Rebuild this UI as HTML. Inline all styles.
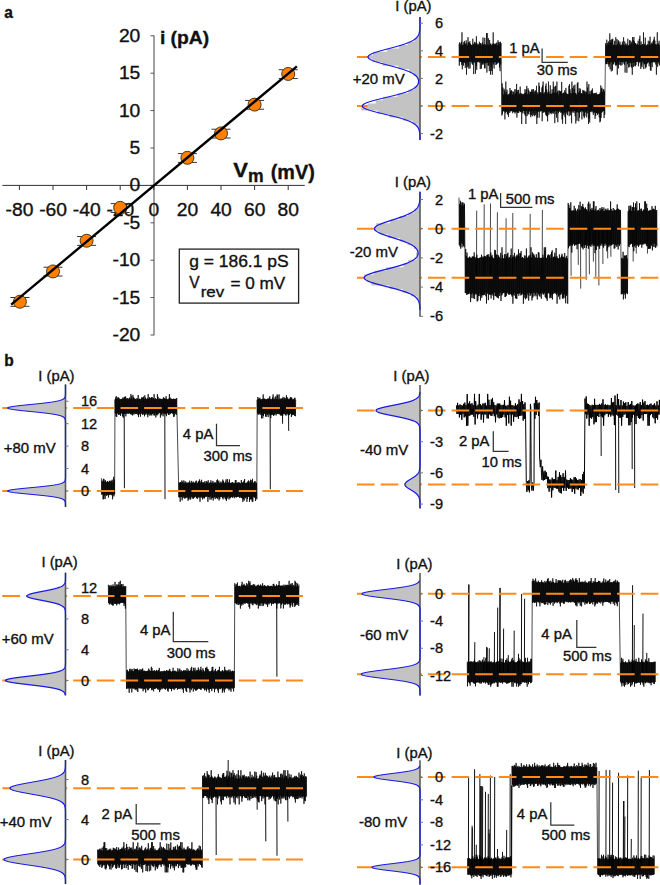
<!DOCTYPE html>
<html><head><meta charset="utf-8"><style>
html,body{margin:0;padding:0;background:#fff;}
svg{display:block;}
text{font-family:"Liberation Sans",sans-serif;stroke:#111;stroke-width:0.35px;}
</style></head><body>
<svg width="660" height="885" viewBox="0 0 660 885">
<rect width="660" height="885" fill="#fff"/>
<text transform="translate(4.19,18.39) scale(0.956,1)" font-size="16.18" text-anchor="start" font-weight="bold" stroke-width="0.1" fill="#111">a</text>
<line x1="154.00" y1="35.50" x2="154.00" y2="335.20" stroke="#8a8a8a" stroke-width="1.6" />
<line x1="150.50" y1="335.00" x2="154.00" y2="335.00" stroke="#555" stroke-width="1" />
<line x1="150.50" y1="297.60" x2="154.00" y2="297.60" stroke="#555" stroke-width="1" />
<line x1="150.50" y1="260.20" x2="154.00" y2="260.20" stroke="#555" stroke-width="1" />
<line x1="150.50" y1="222.80" x2="154.00" y2="222.80" stroke="#555" stroke-width="1" />
<line x1="150.50" y1="185.40" x2="154.00" y2="185.40" stroke="#555" stroke-width="1" />
<line x1="150.50" y1="148.00" x2="154.00" y2="148.00" stroke="#555" stroke-width="1" />
<line x1="150.50" y1="110.60" x2="154.00" y2="110.60" stroke="#555" stroke-width="1" />
<line x1="150.50" y1="73.20" x2="154.00" y2="73.20" stroke="#555" stroke-width="1" />
<line x1="150.50" y1="35.80" x2="154.00" y2="35.80" stroke="#555" stroke-width="1" />
<line x1="2.40" y1="185.40" x2="304.80" y2="185.40" stroke="#333" stroke-width="1" />
<line x1="19.40" y1="185.40" x2="19.40" y2="190.00" stroke="#333" stroke-width="1" />
<line x1="53.00" y1="185.40" x2="53.00" y2="190.00" stroke="#333" stroke-width="1" />
<line x1="86.60" y1="185.40" x2="86.60" y2="190.00" stroke="#333" stroke-width="1" />
<line x1="120.20" y1="185.40" x2="120.20" y2="190.00" stroke="#333" stroke-width="1" />
<line x1="153.80" y1="185.40" x2="153.80" y2="190.00" stroke="#333" stroke-width="1" />
<line x1="187.40" y1="185.40" x2="187.40" y2="190.00" stroke="#333" stroke-width="1" />
<line x1="221.00" y1="185.40" x2="221.00" y2="190.00" stroke="#333" stroke-width="1" />
<line x1="254.60" y1="185.40" x2="254.60" y2="190.00" stroke="#333" stroke-width="1" />
<line x1="288.20" y1="185.40" x2="288.20" y2="190.00" stroke="#333" stroke-width="1" />
<text transform="translate(140.30,340.90) scale(1.07,1)" font-size="18" text-anchor="end" fill="#111">-20</text>
<text transform="translate(140.30,303.50) scale(1.07,1)" font-size="18" text-anchor="end" fill="#111">-15</text>
<text transform="translate(140.30,266.10) scale(1.07,1)" font-size="18" text-anchor="end" fill="#111">-10</text>
<text transform="translate(140.30,228.70) scale(1.07,1)" font-size="18" text-anchor="end" fill="#111">-5</text>
<text transform="translate(140.30,191.30) scale(1.07,1)" font-size="18" text-anchor="end" fill="#111">0</text>
<text transform="translate(140.30,153.90) scale(1.07,1)" font-size="18" text-anchor="end" fill="#111">5</text>
<text transform="translate(140.30,116.50) scale(1.07,1)" font-size="18" text-anchor="end" fill="#111">10</text>
<text transform="translate(140.30,79.10) scale(1.07,1)" font-size="18" text-anchor="end" fill="#111">15</text>
<text transform="translate(140.30,41.70) scale(1.07,1)" font-size="18" text-anchor="end" fill="#111">20</text>
<text transform="translate(19.50,216.00) scale(1.07,1)" font-size="18" text-anchor="middle" fill="#111">-80</text>
<text transform="translate(53.10,216.00) scale(1.07,1)" font-size="18" text-anchor="middle" fill="#111">-60</text>
<text transform="translate(86.70,216.00) scale(1.07,1)" font-size="18" text-anchor="middle" fill="#111">-40</text>
<text transform="translate(120.30,216.00) scale(1.07,1)" font-size="18" text-anchor="middle" fill="#111">-20</text>
<text transform="translate(153.90,216.00) scale(1.07,1)" font-size="18" text-anchor="middle" fill="#111">0</text>
<text transform="translate(187.50,216.00) scale(1.07,1)" font-size="18" text-anchor="middle" fill="#111">20</text>
<text transform="translate(221.10,216.00) scale(1.07,1)" font-size="18" text-anchor="middle" fill="#111">40</text>
<text transform="translate(254.70,216.00) scale(1.07,1)" font-size="18" text-anchor="middle" fill="#111">60</text>
<text transform="translate(288.30,216.00) scale(1.07,1)" font-size="18" text-anchor="middle" fill="#111">80</text>
<line x1="10.40" y1="297.51" x2="29.40" y2="297.51" stroke="#333" stroke-width="1" />
<line x1="10.40" y1="306.31" x2="29.40" y2="306.31" stroke="#333" stroke-width="1" />
<line x1="19.90" y1="297.51" x2="19.90" y2="306.31" stroke="#333" stroke-width="1" />
<circle cx="19.90" cy="301.71" r="6.5" fill="#ff8000" stroke="#3a2a10" stroke-width="0.9"/>
<line x1="43.50" y1="267.22" x2="62.50" y2="267.22" stroke="#333" stroke-width="1" />
<line x1="43.50" y1="276.02" x2="62.50" y2="276.02" stroke="#333" stroke-width="1" />
<line x1="53.00" y1="267.22" x2="53.00" y2="276.02" stroke="#333" stroke-width="1" />
<circle cx="53.00" cy="271.42" r="6.5" fill="#ff8000" stroke="#3a2a10" stroke-width="0.9"/>
<line x1="77.10" y1="236.55" x2="96.10" y2="236.55" stroke="#333" stroke-width="1" />
<line x1="77.10" y1="245.35" x2="96.10" y2="245.35" stroke="#333" stroke-width="1" />
<line x1="86.60" y1="236.55" x2="86.60" y2="245.35" stroke="#333" stroke-width="1" />
<circle cx="86.60" cy="240.75" r="6.5" fill="#ff8000" stroke="#3a2a10" stroke-width="0.9"/>
<line x1="110.70" y1="203.64" x2="129.70" y2="203.64" stroke="#333" stroke-width="1" />
<line x1="110.70" y1="212.44" x2="129.70" y2="212.44" stroke="#333" stroke-width="1" />
<line x1="120.20" y1="203.64" x2="120.20" y2="212.44" stroke="#333" stroke-width="1" />
<circle cx="120.20" cy="207.84" r="6.5" fill="#ff8000" stroke="#3a2a10" stroke-width="0.9"/>
<line x1="177.90" y1="153.60" x2="196.90" y2="153.60" stroke="#333" stroke-width="1" />
<line x1="177.90" y1="162.40" x2="196.90" y2="162.40" stroke="#333" stroke-width="1" />
<line x1="187.40" y1="153.60" x2="187.40" y2="162.40" stroke="#333" stroke-width="1" />
<circle cx="187.40" cy="157.80" r="6.5" fill="#ff8000" stroke="#3a2a10" stroke-width="0.9"/>
<line x1="211.50" y1="129.21" x2="230.50" y2="129.21" stroke="#333" stroke-width="1" />
<line x1="211.50" y1="138.01" x2="230.50" y2="138.01" stroke="#333" stroke-width="1" />
<line x1="221.00" y1="129.21" x2="221.00" y2="138.01" stroke="#333" stroke-width="1" />
<circle cx="221.00" cy="133.41" r="6.5" fill="#ff8000" stroke="#3a2a10" stroke-width="0.9"/>
<line x1="245.10" y1="100.42" x2="264.10" y2="100.42" stroke="#333" stroke-width="1" />
<line x1="245.10" y1="109.22" x2="264.10" y2="109.22" stroke="#333" stroke-width="1" />
<line x1="254.60" y1="100.42" x2="254.60" y2="109.22" stroke="#333" stroke-width="1" />
<circle cx="254.60" cy="104.62" r="6.5" fill="#ff8000" stroke="#3a2a10" stroke-width="0.9"/>
<line x1="278.70" y1="69.75" x2="297.70" y2="69.75" stroke="#333" stroke-width="1" />
<line x1="278.70" y1="78.55" x2="297.70" y2="78.55" stroke="#333" stroke-width="1" />
<line x1="288.20" y1="69.75" x2="288.20" y2="78.55" stroke="#333" stroke-width="1" />
<circle cx="288.20" cy="73.95" r="6.5" fill="#ff8000" stroke="#3a2a10" stroke-width="0.9"/>
<line x1="11.20" y1="304.60" x2="296.90" y2="66.30" stroke="#000" stroke-width="2.4" />
<text transform="translate(159.90,43.92) scale(1.031,1)" font-size="18.72" text-anchor="start" font-weight="bold" stroke-width="0.1" fill="#111">i (pA)</text>
<text transform="translate(233.33,177.45) scale(1.133,1)" font-size="19.42" text-anchor="start" font-weight="bold" stroke-width="0.1" fill="#111">V</text>
<text transform="translate(247.90,181.55) scale(0.933,1)" font-size="18.89" text-anchor="start" font-weight="bold" stroke-width="0.1" fill="#111">m</text>
<text transform="translate(270.76,179.17) scale(0.95,1)" font-size="20.86" text-anchor="start" font-weight="bold" stroke-width="0.1" fill="#111">(mV)</text>
<rect x="179.3" y="249.1" width="119.3" height="54" fill="none" stroke="#222" stroke-width="1.3"/>
<text transform="translate(189.15,266.73) scale(1.074,1)" font-size="16.26" text-anchor="start" fill="#111">g = 186.1 pS</text>
<text transform="translate(189.37,287.85) scale(0.968,1)" font-size="16.09" text-anchor="start" fill="#111">V</text>
<text transform="translate(200.65,296.80) scale(1.111,1)" font-size="15.27" text-anchor="start" fill="#111">rev</text>
<text transform="translate(230.39,289.48) scale(1.016,1)" font-size="16.9" text-anchor="start" fill="#111">= 0 mV</text>
<text transform="translate(4.20,366.20) scale(0.96,1)" font-size="16.2" text-anchor="start" font-weight="bold" stroke-width="0.1" fill="#111">b</text>
<path d="M459.0 43.9l .3 21.8 .3-23.3 .3 19.3 .3-16.4 .3 16.5 .3-18.5 .3 18.7 .3-20.4 .3 23.3 .3-32.6 .3 37 .3-24.4 .3 18.1 .3-18.3 .3 20.9 .3-23.3 .3 19.4 .3-20.8 .3 22.1 .3-19.9 .3 24.7 .3-23.4 .3 20.1 .3-24.2 .3 34.4 .3-31.4 .3 18.9 .3-16.9 .3 22 .3-30.1 .3 29.1 .3-24.3 .3 26.8 .3-25.9 .3 18.9 .3-20.5 .3 27.1 .3-24.8 .3 18 .3-16.8 .3 16.9 .3-16.8 .3 18.6 .3-18.3 .3 19.5 .3-26 .3 24.1 .3-19.1 .3 30.5 .3-29.5 .3 17.9 .3-20.7 .3 19.6 .3-17.8 .3 30 .3-31.1 .3 23.4 .3-29.7 .3 33.5 .3-26.3 .3 18.4 .3-16.7 .3 17.2 .3-18.6 .3 17.7 .3-16.4 .3 16.5 .3-19.9 .3 21 .3-19 .3 25.4 .3-26.1 .3 18.9 .3-18.1 .3 24.8 .3-23.2 .3 19.1 .3-22.1 .3 22.1 .3-27 .3 25.2 .3-17.9 .3 19.7 .3-20.6 .3 24.3 .3-30.4 .3 30.5 .3-23.8 .3 18.8 .3-17.9 .3 17.3 .3-29.7 .3 39.6 .3-39.5 .3 29.4 .3-17.9 .3 20.8 .3-27.2 .3 27.5 .3-20.6 .3 26 .3-31.1 .3 22.3 .3-18.4 .3 30.8 .3-31.3 .3 23.3 .3-21.7 .3 25.9 .3-26 .3 29.8 .3-30.9 .3 18.3 .3-29.8 .3 32.2 .3-21.3 .3 25.3 .3-24.2 .3 18.3 .3-18.3 .3 17.8 .3-18.3 .3 21.2 .3-21.7 .3 21 .3-21.8 .3 21.3 .3-18.3 .3 16.8 .3-22 .3 22.8 .3-20.8 .3 19.6 .3-17.5 .3 23 .3-25.2 .3 29 .3-29.5 .3 22.7 .3-21.3 .6 49.1 .3 23.4 .3-32.2 .3 30.7 .3-26.6 .3 23.8 .3-16.8 .3 16.6 .3-22.4 .3 22.8 .3-21 .3 28.9 .3-25.6 .3 19 .3-31.2 .3 29.9 .3-19.6 .3 19.8 .3-22 .3 24.3 .3-19.3 .3 20 .3-20.2 .3 22.5 .3-22.6 .3 16.6 .3-17.5 .3 19.5 .3-25 .3 23.4 .3-20 .3 19.8 .3-21.1 .3 21 .3-20.3 .3 20.3 .3-16.6 .3 18.7 .3-21.6 .3 20.4 .3-20.2 .3 19.5 .3-16.7 .3 17.7 .3-23.2 .3 24.5 .3-20.5 .3 18.9 .3-22.5 .3 22.1 .3-27.7 .3 33.7 .3-25.5 .3 20.7 .3-22.7 .3 22.4 .3-22.6 .3 23 .3-18.3 .3 16.5 .3-17.5 .3 17.6 .3-24.6 .3 25.5 .3-18.7 .3 18.1 .3-17.9 .3 30.4 .3-30.3 .3 18.6 .3-17.5 .3 18.6 .3-19.5 .3 16.9 .3-16.4 .3 16.6 .3-17.7 .3 21 .3-25.1 .3 26.6 .3-23 .3 31.2 .3-34.4 .3 21.4 .3-25.1 .3 30.2 .3-21.9 .4 19.4 .3-25.3 .3 26 .3-24.1 .3 21.6 .3-17.6 .3 17 .3-19.7 .3 23.2 .3-22.6 .3 25.1 .3-25.2 .3 23.1 .3-25.6 .3 21.6 .3-21.5 .3 26.6 .3-24.1 .3 21.3 .3-24.4 .3 25.9 .3-20.7 .3 22 .3-24.8 .3 19.7 .3-20.8 .3 25 .3-23.4 .3 21.4 .3-27.5 .3 38.2 .3-29.3 .3 23 .3-25.3 .3 19.3 .3-17.8 .3 17.5 .3-28.8 .3 35.1 .3-31.6 .3 25.8 .3-19.8 .3 18.7 .3-18.4 .3 19 .3-18.1 .3 17.5 .3-23.3 .3 33.7 .3-35.7 .3 27.2 .3-31.1 .3 31 .3-19.1 .3 17.7 .3-17.7 .3 18.4 .3-20 .3 20.8 .3-26.5 .3 28.6 .3-31.3 .3 32.4 .3-26.4 .3 26.9 .3-22.9 .3 27.8 .3-29.1 .3 20 .3-30.6 .3 33.5 .3-23.6 .3 20 .3-17.6 .3 19.6 .3-28.2 .3 27.9 .3-19.3 .3 18.6 .3-18.8 .3 20.5 .3-24.9 .3 23.6 .3-20 .3 18.2 .3-29.5 .3 32 .3-26.7 .3 25.2 .3-19.3 .3 30.3 .3-36.6 .3 24.4 .3-25.1 .3 28.5 .3-21.5 .3 25 .3-36.2 .3 29.7 .3-19.5 .3 30.4 .3-31.6 .3 22.6 .3-18.6 .3 17.3 .3-21.2 .3 20.6 .3-20.5 .3 20.5 .3-19.5 .3 21 .3-21.7 .3 21.1 .3-30.2 .3 37.4 .3-25.7 .3 30 .3-30.4 .3 20.3 .3-21 .3 22.6 .3-21.4 .3 18.7 .3-22.3 .3 27 .3-25.2 .3 32 .3-36.1 .3 23.9 .3-18.4 .3 20.1 .3-19.7 .3 21.4 .3-21 .3 17.6 .3-17.6 .3 16.8 .3-25.3 .3 30.4 .3-32 .3 27.5 .3-22.3 .3 25.9 .3-22.3 .3 18.6 .3-18 .3 29.8 .3-41.7 .3 31 .3-24.7 .3 23.1 .3-18.1 .3 18.8 .3-26 .3 27.2 .3-23.9 .3 21.9 .3-26.2 .3 31.6 .3-23.2 .3 30.4 .3-29.9 .3 18.7 .3-17.5 .3 25.9 .3-37.4 .3 28.6 .3-29.7 .3 30.6 .3-20.2 .3 28.7 .4-33 .3 29.4 .3-26.6 .3 21.2 .3-23.6 .3 23 .3-18 .3 17.2 .3-17.7 .3 26.2 .3-25.8 .3 17.6 .3-21.3 .3 22 .3-21 .3 25.4 .3-25.9 .3 27.8 .3-26.7 .3 24.7 .3-22.5 .3 17.8 .3-20.2 .3 21.5 .3-20.8 .3 25.4 .3-35.8 .3 31.8 .3-25.9 .3 23.5 .3-16.7 .3 29.7 .3-39.8 .3 34.6 .3-25.2 .3 28.9 .3-31.3 .3 20.6 .3-17.6 .3 17.8 .3-21.4 .3 20.2 .3-20.5 .3 22 .3-23.8 .3 22.6 .3-18.3 .3 22.1 .3-20.8 .3 18.8 .3-19.6 .3 19 .3-19.3 .3 25.8 .3-25.8 .3 23 .3-21.2 .3 18.2 .3-20.3 .3 20.6 .3-18.6 .3 20.2 .3-20.5 .3 18.3 .3-18.5 .3 19.5 .3-19.4 .3 23 .3-23.4 .3 28.4 .3-30.1 .3 29 .3-35.8 .3 32.4 .3-29.2 .3 24.3 .3-25.2 .3 24.1 .3-19.9 .3 19.4 .3-21.7 .3 21.4 .3-21.9 .3 29 .3-27 .3 23.6 .3-22.1 .6-49.3 .3 20.6 .3-18.5 .3 18.8 .3-24.5 .3 24.3 .3-21.1 .3 19.1 .3-16.9 .3 19.3 .3-22.9 .3 25.3 .3-24.2 .3 21.7 .3-30.9 .3 35.9 .3-29.1 .3 22.2 .3-19.6 .3 28.6 .3-32.1 .3 22.5 .3-21.9 .3 30.7 .3-31.9 .3 25.6 .3-19.7 .3 19.7 .3-19 .3 16.9 .3-21.3 .3 21.3 .3-17.2 .3 20.5 .3-28.3 .3 27.8 .3-19.9 .3 20.4 .3-26.4 .3 35.6 .3-31 .3 20.1 .3-23.7 .3 28.3 .3-27 .3 23.6 .3-21 .3 17.6 .3-19.9 .3 22.7 .3-19.5 .3 20.8 .3-20.2 .3 16.4 .3-17.4 .3 20.6 .3-23.5 .3 20.5 .3-17.7 .3 17.5 .3-24.6 .3 26.3 .3-18.1 .3 19.3 .3-23.4 .3 31.2 .3-28.2 .3 17.3 .3-18.3 .3 18.3 .3-16.2 .3 27.3 .3-28.2 .3 19.7 .3-25.5 .3 24.2 .3-17.7 .3 22.3 .3-22.1 .3 21.5 .3-26.9 .3 22.4 .3-18.1 .3 18.7 .3-22.4 .3 25.8 .3-24.2 .3 25.4 .3-23.4 .3 30.4 .3-37.7 .4 25.7 .3-22.6 .3 26.9 .3-30 .3 25.6 .3-21.1 .3 24.4 .3-22.9 .3 23.3 .3-23.1 .3 21.7 .3-20.4 .3 17.3 .3-16.9 .3 17.1 .3-18.2 .3 17.8 .3-20.8 .3 25.5 .3-21.1 .3 18.1 .3-24.6 .3 23.1 .3-26.1 .3 26.3 .3-17 .3 24 .3-27.5 .3 24 .3-20.4 .3 22.1 .3-23.2 .3 17.6 .3-17.4 .3 19.1 .3-31 .3 36.8 .3-23.7 .3 18.4 .3-20 .3 20.8 .3-27 .3 30.8 .3-22.9 .3 21.7 .3-21.7 .3 18.7 .3-19.5 .3 18.5 .3-18.9 .3 18.5 .3-22.1 .3 21.3 .3-16.8 .3 21.1 .3-24.8 .3 22.1 .3-26.9 .3 33.6 .3-25.7 .3 26.2 .3-27.2 .3 19 .3-20.1 .3 24.6 .3-23.3 .3 18.4 .3-21 .3 21 .3-22.6 .3 22.4 .3-25.2 .3 25.6 .3-21.8 .3 21.6 .3-17.8 .3 20.1 .3-20.6 .3 30.8 .3-29.6 .3 16.8 .3-29.6 .3 34.5 .3-22.2 .3 17.4 .3-18.5 .3 20 .3-22.7 .3 24.7 .3-20.6 .3 18.7" fill="none" stroke="#000" stroke-width="0.65" stroke-linejoin="bevel"/>
<line x1="357.00" y1="57.00" x2="660.00" y2="57.00" stroke="#ff8a1a" stroke-width="2" stroke-dasharray="17.6 6.04"/>
<line x1="357.00" y1="106.00" x2="660.00" y2="106.00" stroke="#ff8a1a" stroke-width="2" stroke-dasharray="17.6 6.04"/>
<path d="M420.00 17.35 L419.00 17.35 L419.00 20.80 L419.20 20.80 L419.20 24.25 L420.00 24.25 L420.00 27.70 L419.64 27.70 L419.64 31.15 L418.66 31.15 L418.66 34.60 L417.53 34.60 L417.53 38.05 L414.53 38.05 L414.53 41.50 L407.52 41.50 L407.52 44.95 L399.14 44.95 L399.14 48.40 L386.89 48.40 L386.89 51.85 L372.99 51.85 L372.99 55.30 L368.85 55.30 L368.85 58.75 L372.40 58.75 L372.40 62.20 L382.31 62.20 L382.31 65.65 L398.37 65.65 L398.37 69.10 L409.15 69.10 L409.15 72.55 L413.63 72.55 L413.63 76.00 L417.21 76.00 L417.21 79.45 L418.82 79.45 L418.82 82.90 L417.22 82.90 L417.22 86.35 L414.19 86.35 L414.19 89.80 L408.33 89.80 L408.33 93.25 L397.61 93.25 L397.61 96.70 L382.96 96.70 L382.96 100.15 L375.68 100.15 L375.68 103.60 L367.55 103.60 L367.55 107.05 L361.24 107.05 L361.24 110.50 L377.68 110.50 L377.68 113.95 L389.49 113.95 L389.49 117.40 L403.03 117.40 L403.03 120.85 L412.77 120.85 L412.77 124.30 L417.65 124.30 L417.65 127.75 L418.67 127.75 L418.67 131.20 L420.00 131.20 L420.00 134.65 L419.16 134.65 L419.16 138.10 L419.74 138.10 L419.74 141.55 L420.00 141.55 Z" fill="#c3c3c3" stroke="none"/>
<line x1="420.00" y1="17.00" x2="420.00" y2="140.00" stroke="#5a5a5a" stroke-width="1.6" />
<path d="M420.00 17.00 L420.00 17.50 L420.00 18.00 L420.00 18.50 L420.00 19.00 L420.00 19.50 L420.00 20.00 L420.00 20.50 L420.00 21.00 L419.99 21.50 L419.99 22.00 L419.99 22.50 L419.99 23.00 L419.98 23.50 L419.98 24.00 L419.98 24.50 L419.97 25.00 L419.96 25.50 L419.95 26.00 L419.94 26.50 L419.92 27.00 L419.91 27.50 L419.88 28.00 L419.86 28.50 L419.82 29.00 L419.79 29.50 L419.74 30.00 L419.68 30.50 L419.62 31.00 L419.54 31.50 L419.44 32.00 L419.33 32.50 L419.20 33.00 L419.06 33.50 L418.88 34.00 L418.68 34.50 L418.45 35.00 L418.18 35.50 L417.88 36.00 L417.54 36.50 L417.15 37.00 L416.71 37.50 L416.21 38.00 L415.66 38.50 L415.05 39.00 L414.37 39.50 L413.62 40.00 L412.79 40.50 L411.89 41.00 L410.91 41.50 L409.84 42.00 L408.69 42.50 L407.46 43.00 L406.15 43.50 L404.75 44.00 L403.27 44.50 L401.71 45.00 L400.09 45.50 L398.39 46.00 L396.64 46.50 L394.84 47.00 L392.99 47.50 L391.11 48.00 L389.22 48.50 L387.32 49.00 L385.43 49.50 L383.56 50.00 L381.73 50.50 L379.96 51.00 L378.25 51.50 L376.63 52.00 L375.11 52.50 L373.70 53.00 L372.42 53.50 L371.29 54.00 L370.31 54.50 L369.49 55.00 L368.84 55.50 L368.38 56.00 L368.09 56.50 L368.00 57.00 L368.09 57.50 L368.38 58.00 L368.84 58.50 L369.49 59.00 L370.31 59.50 L371.29 60.00 L372.42 60.50 L373.70 61.00 L375.11 61.50 L376.63 62.00 L378.25 62.50 L379.96 63.00 L381.73 63.50 L383.56 64.00 L385.43 64.50 L387.32 65.00 L389.22 65.50 L391.11 66.00 L392.99 66.50 L394.83 67.00 L396.64 67.50 L398.39 68.00 L400.08 68.50 L401.71 69.00 L403.27 69.50 L404.74 70.00 L406.14 70.50 L407.46 71.00 L408.68 71.50 L409.83 72.00 L410.89 72.50 L411.87 73.00 L412.76 73.50 L413.58 74.00 L414.32 74.50 L414.99 75.00 L415.60 75.50 L416.13 76.00 L416.60 76.50 L417.02 77.00 L417.38 77.50 L417.69 78.00 L417.95 78.50 L418.16 79.00 L418.33 79.50 L418.46 80.00 L418.54 80.50 L418.59 81.00 L418.59 81.50 L418.56 82.00 L418.49 82.50 L418.38 83.00 L418.22 83.50 L418.02 84.00 L417.77 84.50 L417.48 85.00 L417.13 85.50 L416.72 86.00 L416.26 86.50 L415.73 87.00 L415.14 87.50 L414.47 88.00 L413.72 88.50 L412.90 89.00 L411.99 89.50 L411.00 90.00 L409.91 90.50 L408.74 91.00 L407.47 91.50 L406.11 92.00 L404.65 92.50 L403.10 93.00 L401.47 93.50 L399.74 94.00 L397.94 94.50 L396.06 95.00 L394.12 95.50 L392.12 96.00 L390.08 96.50 L388.00 97.00 L385.91 97.50 L383.80 98.00 L381.71 98.50 L379.64 99.00 L377.61 99.50 L375.64 100.00 L373.75 100.50 L371.96 101.00 L370.27 101.50 L368.72 102.00 L367.30 102.50 L366.04 103.00 L364.95 103.50 L364.05 104.00 L363.33 104.50 L362.82 105.00 L362.50 105.50 L362.40 106.00 L362.50 106.50 L362.82 107.00 L363.33 107.50 L364.05 108.00 L364.95 108.50 L366.04 109.00 L367.30 109.50 L368.72 110.00 L370.27 110.50 L371.96 111.00 L373.75 111.50 L375.64 112.00 L377.61 112.50 L379.64 113.00 L381.71 113.50 L383.80 114.00 L385.91 114.50 L388.00 115.00 L390.08 115.50 L392.13 116.00 L394.12 116.50 L396.07 117.00 L397.94 117.50 L399.75 118.00 L401.47 118.50 L403.11 119.00 L404.66 119.50 L406.11 120.00 L407.48 120.50 L408.75 121.00 L409.93 121.50 L411.02 122.00 L412.02 122.50 L412.93 123.00 L413.76 123.50 L414.52 124.00 L415.20 124.50 L415.81 125.00 L416.35 125.50 L416.84 126.00 L417.27 126.50 L417.65 127.00 L417.99 127.50 L418.28 128.00 L418.54 128.50 L418.76 129.00 L418.95 129.50 L419.12 130.00 L419.26 130.50 L419.38 131.00 L419.49 131.50 L419.57 132.00 L419.65 132.50 L419.71 133.00 L419.76 133.50 L419.81 134.00 L419.84 134.50 L419.87 135.00 L419.90 135.50 L419.92 136.00 L419.93 136.50 L419.95 137.00 L419.96 137.50 L419.97 138.00 L419.97 138.50 L419.98 139.00 L419.98 139.50 L419.99 140.00" fill="none" stroke="#1a1ae6" stroke-width="1.25"/>
<line x1="420.00" y1="23.20" x2="423.00" y2="23.20" stroke="#777" stroke-width="1" />
<text transform="translate(434.90,28.30) scale(1.0,1)" font-size="14.6" text-anchor="start" fill="#111">6</text>
<line x1="420.00" y1="50.80" x2="423.00" y2="50.80" stroke="#777" stroke-width="1" />
<text transform="translate(434.90,55.90) scale(1.0,1)" font-size="14.6" text-anchor="start" fill="#111">4</text>
<line x1="420.00" y1="78.40" x2="423.00" y2="78.40" stroke="#777" stroke-width="1" />
<text transform="translate(434.90,83.50) scale(1.0,1)" font-size="14.6" text-anchor="start" fill="#111">2</text>
<line x1="420.00" y1="106.00" x2="423.00" y2="106.00" stroke="#777" stroke-width="1" />
<text transform="translate(434.90,111.10) scale(1.0,1)" font-size="14.6" text-anchor="start" fill="#111">0</text>
<line x1="420.00" y1="133.60" x2="423.00" y2="133.60" stroke="#777" stroke-width="1" />
<text transform="translate(434.90,138.70) scale(1.0,1)" font-size="14.6" text-anchor="end" fill="#111">-</text>
<text transform="translate(434.90,138.70) scale(1.0,1)" font-size="14.6" text-anchor="start" fill="#111">2</text>
<text transform="translate(395.20,10.90) scale(1.045,1)" font-size="14.2" text-anchor="start" fill="#111">I (pA)</text>
<text transform="translate(352.70,84.20) scale(1.04,1)" font-size="14.4" text-anchor="start" fill="#111">+20 mV</text>
<polyline points="542.10,48.50 542.10,62.30 567.80,62.30" fill="none" stroke="#333" stroke-width="1.25"/>
<text transform="translate(509.20,52.90) scale(1.03,1)" font-size="14.4" text-anchor="start" fill="#111">1 pA</text>
<text transform="translate(536.80,75.00) scale(1.03,1)" font-size="14.4" text-anchor="start" fill="#111">30 ms</text>
<path d="M476.5 275.5L476.7 210.7M484.0 275.5L484.2 204.3M490.3 275.5L490.5 203.5M497.2 275.5L497.4 212.3M505.9 275.5L506.1 218.3M512.6 275.5L512.8 213.0M530.0 275.5L530.2 213.9M542.2 275.5L542.4 209.9M570.9 227.3L571.1 275.9M578.1 227.3L578.3 264.8M580.5 227.3L580.7 288.6M586.0 227.3L586.2 279.9M589.2 227.3L589.4 274.3M593.2 227.3L593.4 261.6M595.6 227.3L595.8 276.7M598.7 227.3L598.9 285.5M602.7 227.3L602.9 264.0M607.5 227.3L607.7 258.4M610.7 227.3L610.9 256.8M633.0 227.3L633.2 261.6M636.1 227.3L636.3 253.6M647.3 227.3L647.5 253.6" fill="none" stroke="#333" stroke-width="0.9"/>
<path d="M459.0 197.6l .3 47.4 .4-40.9 .3 42.4 .4-45.7 .3 47.9 .4-46.3 .3 40.9 .4-37.7 .3 41.7 .3-44.8 .4 41.4 .3-41.3 .4 43.3 .3-40.6 .4 42 .3-43.7 .5 54.8 .3 34.7 .4-44.2 .3 44 .3-37 .4 39 .3-42.4 .3 41.8 .3-36.6 .4 36.5 .3-36.1 .3 35.9 .4-36.6 .3 35.1 .3-35.9 .4 37.4 .3-36.4 .3 44.5 .3-44.4 .4 36.5 .3-36.2 .3 40.1 .4-41.8 .3 37.1 .3-36.4 .4 41.3 .3-41.9 .3 38.8 .3-42.8 .4 46.6 .3-42.1 .3 37.5 .4-35.9 .3 35.1 .3-36.3 .4 37.1 .3-39.6 .3 46.7 .3-43.2 .4 42.2 .3-42.5 .3 37.9 .4-37.4 .3 37.6 .3-38 .4 35.3 .3-36.3 .3 43.4 .4-42.6 .3 37.8 .3-41 .3 43.1 .4-40 .3 37.3 .3-38.6 .4 38.8 .3-37.7 .3 37.2 .4-38.4 .3 38.4 .3-38.9 .3 36.6 .4-36.1 .3 39.8 .3-39.3 .4 46.6 .3-48.4 .3 37.5 .4-38 .3 39.3 .3-37.8 .3 44.1 .4-46 .3 39.7 .3-37 .4 38.1 .3-37.3 .3 36.7 .4-41.9 .3 46 .3-42.4 .3 38.8 .4-40 .3 39 .3-36.6 .4 38.6 .3-37.5 .3 41.5 .4-41.6 .3 34.2 .3-42.6 .4 46.2 .3-45.8 .3 45.5 .3-41.4 .4 42 .3-41.6 .3 42.6 .4-39.6 .3 39.8 .3-42.7 .4 43.5 .3-42.7 .3 38 .3-36.5 .4 38.8 .3-37.7 .3 34.3 .4-39.8 .3 48.2 .3-42.5 .4 37 .3-48.2 .3 47 .3-39.3 .4 38.1 .3-34.6 .3 34.4 .4-34.7 .3 34.8 .3-38.8 .4 42.8 .3-38.7 .3 38.5 .3-42.7 .4 41.8 .3-39.5 .3 37.1 .4-39.3 .3 38.4 .3-39.9 .4 41.1 .3-35.9 .3 36.9 .4-37.9 .3 37.6 .3-36.5 .3 36 .4-38.9 .3 39.1 .3-45.6 .4 46.7 .3-37 .3 38.3 .4-39.5 .3 46.6 .3-48.3 .3 39 .4-37.5 .3 38.7 .3-42.7 .4 39.6 .3-35.9 .3 41.7 .4-39.9 .3 39.8 .3-42.6 .3 43.4 .4-44.4 .3 39.3 .3-38.1 .4 37.5 .3-43.9 .3 46.3 .4-39.3 .3 37.1 .3-40.3 .3 39.6 .4-39.3 .3 41.9 .3-44.3 .4 43.6 .3-36.9 .3 35.4 .4-36.2 .3 37.3 .3-36.3 .3 45.7 .4-45.6 .3 39.7 .3-42.4 .4 39.6 .3-36.6 .3 40.9 .4-43.6 .3 41.9 .3-49.1 .4 49.8 .3-40.8 .3 35.8 .3-35.1 .4 37.1 .3-38.9 .3 44.3 .4-45.3 .3 37.5 .3-35.4 .4 38.5 .3-41.3 .3 39.8 .3-47.2 .4 46.1 .3-35.9 .3 42.9 .4-48.1 .3 45.4 .3-42.7 .4 37.7 .3-39 .3 42.6 .3-40.8 .4 37.4 .3-35.4 .3 37.2 .4-37.1 .3 38.7 .3-42.1 .4 38.4 .3-34.9 .3 41.7 .3-41.4 .4 34.8 .3-40.6 .3 42.3 .4-41.9 .3 43.3 .3-38.3 .4 39.2 .3-38.8 .3 35.6 .4-35.7 .3 40.8 .3-40.8 .3 35.9 .4-35.7 .3 34.6 .3-38 .4 40 .3-37.2 .3 36.5 .4-46.7 .3 45.5 .3-42 .3 46.1 .4-49.6 .3 50.8 .3-40.1 .4 40.6 .3-40.8 .3 43 .4-45.2 .3 37.6 .3-38.9 .3 38.5 .4-37.5 .3 38.3 .3-38.3 .4 42.9 .3-40.5 .3 39.3 .4-42.8 .3 44 .3-46 .3 42.6 .4-44.5 .3 49.2 .3-41.7 .4 36.3 .3-37.2 .3 35.6 .4-36 .3 36.4 .3-40.2 .4 41.1 .3-36.9 .3 35.8 .3-44.7 .4 46.9 .3-39 .3 47.8 .4-45.9 .3 35.7 .3-35.1 .4 38.2 .3-38.2 .3 37 .3-41 .4 45 .3-41.1 .3 36.5 .4-37.4 .3 36.9 .3-38.8 .4 37.5 .3-39.2 .3 44.6 .3-41.6 .4 41.9 .3-41.9 .3 40.8 .4-40 .3 36.8 .3-41.4 .4 45.2 .3-39.9 .3 45 .3-45.8 .4 38.4 .3-40 .3 38.5 .4-36 .3 45.3 .5-100.7 .3 45.3 .4-43.5 .3 41.6 .3-38.5 .4 37.7 .3-37.2 .3 37.1 .3-43.2 .4 42.1 .3-33.5 .3 41.8 .4-42.3 .3 35.2 .3-34.7 .4 33.4 .3-34 .3 33.3 .4-37.8 .3 40 .3-35.2 .4 34.6 .3-36.7 .3 35.9 .3-33.9 .4 34.2 .3-33.4 .3 37.9 .4-40.3 .3 35.4 .3-34.1 .4 33.6 .3-38.7 .3 38.4 .4-33.9 .3 34 .3-41.9 .3 42.1 .4-33.8 .3 36.2 .3-40.1 .4 41.2 .3-40.3 .3 40.9 .4-44 .3 45.5 .3-42.5 .4 38.5 .3-36.6 .3 39.1 .4-39.4 .3 36.6 .3-37.7 .3 37.4 .4-35 .3 38.1 .3-38.7 .4 34.7 .3-33.1 .3 35.1 .4-42.2 .3 45.2 .3-47.2 .4 43.3 .3-33.7 .3 34.5 .3-42.1 .4 41.9 .3-36.5 .3 37.7 .4-36.8 .3 34.6 .3-36.7 .4 35.7 .3-33.8 .3 36.1 .4-44.5 .3 43.6 .3-43.6 .4 44.2 .3-34.9 .3 42.5 .3-44.1 .4 40.9 .3-43.9 .3 43.8 .4-39.1 .3 34.6 .3-34.7 .4 35.6 .3-36.3 .3 36.3 .4-36.6 .3 34.7 .3-33.1 .3 37.5 .4-40.8 .3 37.4 .3-35 .4 35.2 .3-36.9 .3 35 .4-36.7 .3 36.6 .3-34.5 .4 37 .3-35 .3 36.6 .3-40.2 .4 36.4 .3-32.9 .3 34.9 .4-36.4 .3 34 .3-34.8 .4 36.3 .3-34.6 .3 40.9 .4-41.1 .3 38.2 .3-39.9 .4 36.9 .3-34.9 .3 36.6 .3-36.9 .4 35.1 .3-34.8 .3 34.1 .4-43.2 .3 44.4 .3-36.8 .4 35.8 .3-33.9 .3 33.7 .4-33.9 .3 33.4 .3-36.1 .3 35.8 .4-32.8 .3 37.7 .3-39.2 .4 38.7 .3-38.2 .3 34.7 .4-34.1 .3 34.8 .3-35.9 .4 37.5 .3-42.6 .3 40.3 .4-36.2 .3 41 .3-40.4 .3 35.1 .4-34.4 .3 36 .3-36 .4 34.1 .3-33.8 .5 48.6 .3 35.6 .4-36.4 .3 36.2 .4-35.5 .3 35.4 .4-42.2 .3 47.6 .3-40.8 .4 34.5 .3-37.4 .4 38.9 .3-39.2 .3 43.2 .4-42.6 .3 37.4 .4-38.4 .3 38.1 .4-34.6 .3 35.6 .7-82.9 .3 35.2 .4-40.6 .3 41.3 .3-37.5 .4 35 .3-38.7 .3 38.4 .3-38.8 .4 37.9 .3-32.5 .3 33.1 .4-36.9 .3 39.8 .3-39.7 .4 37.1 .3-41.8 .3 48.8 .4-44 .3 39 .3-35.2 .4 33.9 .3-41.6 .3 44.2 .3-39.9 .4 36.5 .3-42.8 .3 44.3 .4-34.6 .3 33.8 .3-34.7 .4 36.8 .3-36.5 .3 35 .4-42.4 .3 41.3 .3-33.6 .3 33.7 .4-35.6 .3 35 .3-35.3 .4 39.1 .3-36.8 .3 33.7 .4-33.5 .3 32.9 .3-34.5 .4 35 .3-34.6 .3 33.6 .4-42.1 .3 42.2 .3-42.2 .3 42.2 .4-34 .3 36 .3-41.9 .4 42.6 .3-38.2 .3 36 .4-32.9 .3 37.6 .3-38.1 .4 38.2 .3-38.2 .3 37.9 .3-38.5 .4 38.4 .3-38.6 .3 34.8 .4-34.2 .3 35.3 .3-39.6 .4 44.2 .3-41.1 .3 34.5 .4-35.1 .3 38.1 .3-37.3 .4 34.1 .3-34 .3 37.6 .3-41.4 .4 42.1 .3-37.6 .3 35.2 .4-35.4 .3 36.5" fill="none" stroke="#000" stroke-width="0.72" stroke-linejoin="bevel"/>
<line x1="357.00" y1="228.70" x2="660.00" y2="228.70" stroke="#ff8a1a" stroke-width="2" stroke-dasharray="17.6 6.04"/>
<line x1="357.00" y1="277.80" x2="660.00" y2="277.80" stroke="#ff8a1a" stroke-width="2" stroke-dasharray="17.6 6.04"/>
<path d="M420.00 194.15 L420.00 194.15 L420.00 197.80 L420.00 197.80 L420.00 201.45 L420.00 201.45 L420.00 205.10 L417.57 205.10 L417.57 208.75 L414.50 208.75 L414.50 212.40 L408.19 212.40 L408.19 216.05 L399.48 216.05 L399.48 219.70 L390.11 219.70 L390.11 223.35 L376.21 223.35 L376.21 227.00 L373.87 227.00 L373.87 230.65 L378.82 230.65 L378.82 234.30 L388.24 234.30 L388.24 237.95 L400.14 237.95 L400.14 241.60 L407.38 241.60 L407.38 245.25 L414.17 245.25 L414.17 248.90 L417.51 248.90 L417.51 252.55 L416.08 252.55 L416.08 256.20 L416.51 256.20 L416.51 259.85 L408.12 259.85 L408.12 263.50 L403.56 263.50 L403.56 267.15 L386.15 267.15 L386.15 270.80 L374.15 270.80 L374.15 274.45 L364.10 274.45 L364.10 278.10 L366.25 278.10 L366.25 281.75 L371.42 281.75 L371.42 285.40 L389.64 285.40 L389.64 289.05 L402.76 289.05 L402.76 292.70 L410.97 292.70 L410.97 296.35 L416.91 296.35 L416.91 300.00 L418.89 300.00 L418.89 303.65 L420.00 303.65 L420.00 307.30 L419.76 307.30 L419.76 310.95 L420.00 310.95 Z" fill="#c3c3c3" stroke="none"/>
<line x1="420.00" y1="191.80" x2="420.00" y2="316.80" stroke="#5a5a5a" stroke-width="1.6" />
<path d="M419.99 191.80 L419.99 192.30 L419.99 192.80 L419.99 193.30 L419.98 193.80 L419.98 194.30 L419.97 194.80 L419.97 195.30 L419.96 195.80 L419.95 196.30 L419.94 196.80 L419.92 197.30 L419.90 197.80 L419.88 198.30 L419.86 198.80 L419.83 199.30 L419.79 199.80 L419.75 200.30 L419.70 200.80 L419.64 201.30 L419.57 201.80 L419.49 202.30 L419.40 202.80 L419.29 203.30 L419.17 203.80 L419.03 204.30 L418.86 204.80 L418.67 205.30 L418.46 205.80 L418.22 206.30 L417.94 206.80 L417.63 207.30 L417.29 207.80 L416.90 208.30 L416.47 208.80 L415.99 209.30 L415.47 209.80 L414.89 210.30 L414.25 210.80 L413.56 211.30 L412.80 211.80 L411.99 212.30 L411.11 212.80 L410.16 213.30 L409.15 213.80 L408.07 214.30 L406.93 214.80 L405.73 215.30 L404.46 215.80 L403.14 216.30 L401.76 216.80 L400.34 217.30 L398.87 217.80 L397.37 218.30 L395.84 218.80 L394.28 219.30 L392.72 219.80 L391.15 220.30 L389.59 220.80 L388.05 221.30 L386.54 221.80 L385.07 222.30 L383.66 222.80 L382.31 223.30 L381.03 223.80 L379.85 224.30 L378.76 224.80 L377.77 225.30 L376.90 225.80 L376.16 226.30 L375.55 226.80 L375.07 227.30 L374.74 227.80 L374.55 228.30 L374.50 228.80 L374.61 229.30 L374.85 229.80 L375.25 230.30 L375.78 230.80 L376.44 231.30 L377.24 231.80 L378.15 232.30 L379.18 232.80 L380.31 233.30 L381.53 233.80 L382.84 234.30 L384.22 234.80 L385.65 235.30 L387.14 235.80 L388.66 236.30 L390.21 236.80 L391.77 237.30 L393.34 237.80 L394.90 238.30 L396.45 238.80 L397.97 239.30 L399.46 239.80 L400.91 240.30 L402.32 240.80 L403.67 241.30 L404.97 241.80 L406.21 242.30 L407.38 242.80 L408.49 243.30 L409.54 243.80 L410.52 244.30 L411.43 244.80 L412.28 245.30 L413.06 245.80 L413.77 246.30 L414.43 246.80 L415.02 247.30 L415.56 247.80 L416.04 248.30 L416.46 248.80 L416.83 249.30 L417.15 249.80 L417.43 250.30 L417.65 250.80 L417.83 251.30 L417.97 251.80 L418.06 252.30 L418.11 252.80 L418.12 253.30 L418.08 253.80 L418.00 254.30 L417.88 254.80 L417.71 255.30 L417.49 255.80 L417.22 256.30 L416.89 256.80 L416.51 257.30 L416.07 257.80 L415.57 258.30 L415.01 258.80 L414.37 259.30 L413.67 259.80 L412.89 260.30 L412.03 260.80 L411.09 261.30 L410.08 261.80 L408.97 262.30 L407.78 262.80 L406.51 263.30 L405.15 263.80 L403.71 264.30 L402.19 264.80 L400.59 265.30 L398.91 265.80 L397.17 266.30 L395.37 266.80 L393.52 267.30 L391.62 267.80 L389.68 268.30 L387.73 268.80 L385.76 269.30 L383.80 269.80 L381.85 270.30 L379.93 270.80 L378.06 271.30 L376.25 271.80 L374.52 272.30 L372.88 272.80 L371.34 273.30 L369.92 273.80 L368.63 274.30 L367.49 274.80 L366.51 275.30 L365.69 275.80 L365.04 276.30 L364.58 276.80 L364.29 277.30 L364.20 277.80 L364.29 278.30 L364.58 278.80 L365.04 279.30 L365.69 279.80 L366.51 280.30 L367.49 280.80 L368.63 281.30 L369.92 281.80 L371.34 282.30 L372.88 282.80 L374.52 283.30 L376.25 283.80 L378.06 284.30 L379.93 284.80 L381.85 285.30 L383.80 285.80 L385.76 286.30 L387.73 286.80 L389.68 287.30 L391.62 287.80 L393.52 288.30 L395.37 288.80 L397.18 289.30 L398.92 289.80 L400.60 290.30 L402.20 290.80 L403.72 291.30 L405.17 291.80 L406.53 292.30 L407.81 292.80 L409.00 293.30 L410.11 293.80 L411.14 294.30 L412.09 294.80 L412.96 295.30 L413.76 295.80 L414.48 296.30 L415.14 296.80 L415.73 297.30 L416.27 297.80 L416.74 298.30 L417.17 298.80 L417.55 299.30 L417.88 299.80 L418.18 300.30 L418.44 300.80 L418.67 301.30 L418.86 301.80 L419.04 302.30 L419.18 302.80 L419.31 303.30 L419.42 303.80 L419.52 304.30 L419.60 304.80 L419.66 305.30 L419.72 305.80 L419.77 306.30 L419.81 306.80 L419.84 307.30 L419.87 307.80 L419.90 308.30 L419.92 308.80 L419.93 309.30 L419.95 309.80" fill="none" stroke="#1a1ae6" stroke-width="1.25"/>
<line x1="420.00" y1="199.50" x2="423.00" y2="199.50" stroke="#777" stroke-width="1" />
<text transform="translate(434.90,204.60) scale(1.0,1)" font-size="14.6" text-anchor="start" fill="#111">2</text>
<line x1="420.00" y1="228.70" x2="423.00" y2="228.70" stroke="#777" stroke-width="1" />
<text transform="translate(434.90,233.80) scale(1.0,1)" font-size="14.6" text-anchor="start" fill="#111">0</text>
<line x1="420.00" y1="257.90" x2="423.00" y2="257.90" stroke="#777" stroke-width="1" />
<text transform="translate(434.90,263.00) scale(1.0,1)" font-size="14.6" text-anchor="end" fill="#111">-</text>
<text transform="translate(434.90,263.00) scale(1.0,1)" font-size="14.6" text-anchor="start" fill="#111">2</text>
<line x1="420.00" y1="287.10" x2="423.00" y2="287.10" stroke="#777" stroke-width="1" />
<text transform="translate(434.90,292.20) scale(1.0,1)" font-size="14.6" text-anchor="end" fill="#111">-</text>
<text transform="translate(434.90,292.20) scale(1.0,1)" font-size="14.6" text-anchor="start" fill="#111">4</text>
<line x1="420.00" y1="316.30" x2="423.00" y2="316.30" stroke="#777" stroke-width="1" />
<text transform="translate(434.90,321.40) scale(1.0,1)" font-size="14.6" text-anchor="end" fill="#111">-</text>
<text transform="translate(434.90,321.40) scale(1.0,1)" font-size="14.6" text-anchor="start" fill="#111">6</text>
<text transform="translate(394.80,187.30) scale(1.045,1)" font-size="14.2" text-anchor="start" fill="#111">I (pA)</text>
<text transform="translate(349.70,257.20) scale(1.04,1)" font-size="14.4" text-anchor="start" fill="#111">-20 mV</text>
<polyline points="500.60,192.90 500.60,207.30 532.40,207.30" fill="none" stroke="#333" stroke-width="1.25"/>
<text transform="translate(467.90,199.20) scale(1.03,1)" font-size="14.4" text-anchor="start" fill="#111">1 pA</text>
<text transform="translate(505.80,203.50) scale(1.03,1)" font-size="14.4" text-anchor="start" fill="#111">500 ms</text>
<path d="M124.2 406.2L124.4 488.2M164.8 406.2L165.0 499.1M270.1 406.5L270.3 489.2M282.4 406.5L282.6 423.7M288.5 406.5L288.7 430.9" fill="none" stroke="#111" stroke-width="1.0"/>
<path d="M101.4 478.3l .3 16.3 .4-13.9 .3 13.6 .4-12.9 .3 17.9 .3-20.5 .4 20.4 .3-19.9 .3 16.5 .4-14.4 .3 17.5 .4-18.6 .3 14.4 .3-12.7 .4 13.8 .3-13.9 .4 12.8 .3-13.6 .3 14.2 .4-13.5 .3 15.7 .3-15.7 .4 12.7 .3-13.7 .4 14.3 .3-13.5 .3 12.6 .4-13.6 .3 14.2 .4-13.7 .3 14.2 .3-15.6 .4 19.6 .3-17.5 .3 13 .4-18 .3 19.6 .4-16.8 .3 14.8 .4-95 .3 14 .4-16 .3 19.1 .3-20.4 .4 20.9 .3-17.9 .3 14.6 .4-16.1 .3 15.6 .3-15.9 .3 17.7 .4-17.1 .3 16.4 .3-15.1 .4 15.6 .3-15.7 .3 16.8 .4-16.7 .3 14 .3-14.1 .4 14.4 .3-14.9 .3 17.7 .4-18.8 .3 20.3 .3-19.1 .4 15.4 .3-17.3 .3 16.5 .3-15.7 .4 16.4 .3-17.6 .3 19.9 .4-17 .3 14.1 .3-15.4 .4 15.3 .3-14.9 .3 15.4 .4-14.4 .3 14.2 .3-15.2 .4 14.7 .3-15.5 .3 15.9 .4-14.6 .3 15.3 .3-20.1 .3 20.2 .4-18.2 .3 18.5 .3-15.9 .4 16.8 .3-20.6 .3 18.7 .4-16.4 .3 17.4 .3-16.5 .4 15 .3-14.3 .3 15.3 .4-15.1 .3 14.7 .3-14.3 .4 14.6 .3-15.9 .3 15.2 .3-14.5 .4 16.3 .3-20.1 .3 22.1 .4-17.8 .3 15.1 .3-15.7 .4 15.2 .3-14.6 .3 17.4 .4-17.8 .3 14.4 .3-15.8 .4 16.3 .3-15.9 .3 16.8 .4-17.4 .3 17.2 .3-17.8 .3 17 .4-14.6 .3 17.2 .3-21 .4 18.3 .3-15.9 .3 17.1 .4-15.5 .3 13.8 .3-14.4 .4 15.8 .3-16.1 .3 18.8 .4-23.1 .3 20.4 .3-15.7 .3 14.5 .4-16.2 .3 18.6 .3-17.5 .4 16.1 .3-16.4 .3 17.3 .4-17.8 .3 18 .3-18.4 .4 17 .3-15.8 .3 15 .4-14.8 .3 17 .3-21.3 .4 21.2 .3-15.9 .3 13.7 .3-15 .4 19.4 .3-18.4 .3 16 .4-16 .3 16.3 .3-21.3 .4 20.5 .3-17.8 .3 16.8 .4-14.4 .3 13.9 .3-14.5 .4 14.5 .3-14.5 .3 19 .4-18.6 .3 14.5 .3-14.5 .3 16.3 .4-16.5 .3 14.6 .3-14.3 .4 17.2 .3-19.1 .3 16.3 .4-15.2 .3 15 .3-15.4 .4 16.5 .3-15.4 .3 14.7 .4-17.5 .3 20 .3-17.4 .4 14.4 .3-13.8 .3 13.9 .3-14.1 .4 15.6 .3-16.1 .3 16.3 .4-20.9 .3 19.3 .3-15.9 .4 16.6 .3-15.6 .3 14.5 .4-14.2 .3 14.4 .3-14 .4 14.1 .3-14.2 .3 15 .4-15.4 .3 18.3 .3-18 .3 17.4 .4-17.5 .3 14.6 .3-14.2 .4 14.5 .3-15.1 .3 16.2 .4-16.8 .3 16.8 1.5 65.3 .3 17.1 .4-14.7 .3 14.7 .3-14.6 .4 19.1 .3-19.8 .3 15 .3-14.3 .4 14.2 .3-16.4 .3 19.8 .4-18.7 .3 16.6 .3-15.3 .4 13.6 .3-16.1 .3 17.5 .3-14.8 .4 15.6 .3-17.2 .3 16.2 .4-16 .3 16.4 .3-15 .4 13.9 .3-14.5 .3 15.2 .4-14.6 .3 17.6 .3-18.4 .3 16.9 .4-16 .3 14.3 .3-16.8 .4 19 .3-17 .3 16.5 .4-16 .3 13.5 .3-15.8 .3 16.6 .4-14.8 .3 15.7 .3-15.9 .4 16.3 .3-17.1 .3 16 .4-14.9 .3 14.5 .3-14.2 .3 13.5 .4-15.1 .3 15.6 .3-16.5 .4 17.5 .3-15 .3 15.9 .4-16.2 .3 14.6 .3-15.9 .4 15.8 .3-16.5 .3 16.5 .3-17.9 .4 22.4 .3-19 .3 14.3 .4-15.9 .3 16.5 .3-17.9 .4 16.7 .3-14 .3 16.9 .3-16.9 .4 14.9 .3-15 .3 15.9 .4-15.6 .3 15.6 .3-17.1 .4 15.5 .3-13.3 .3 13.3 .4-15.4 .3 15.3 .3-15.1 .3 15.1 .4-14 .3 19.2 .3-21.6 .4 17 .3-13.7 .3 13.5 .4-14.1 .3 16.7 .3-17.2 .3 14.2 .4-16.3 .3 19.3 .3-16.5 .4 14.6 .3-15.2 .3 15.4 .4-17 .3 19.6 .3-17.1 .4 14.3 .3-15.5 .3 14.8 .3-14.1 .4 16.2 .3-16.6 .3 14.9 .4-14 .3 14.7 .3-17.8 .4 17.7 .3-18.6 .3 19.7 .3-17.4 .4 15.4 .3-16.5 .3 19.9 .4-17.2 .3 15.7 .3-16.4 .4 14.4 .3-15.4 .3 15 .3-13.2 .4 13.7 .3-15 .3 15.7 .4-18.2 .3 19.8 .3-18.5 .4 16.4 .3-14.6 .3 14.2 .4-13.6 .3 15.3 .3-16.9 .3 17.6 .4-19.9 .3 21.6 .3-18 .4 15.7 .3-19.5 .3 18.4 .4-15.6 .3 14.6 .3-13.6 .3 16.5 .4-20.1 .3 18.6 .3-15.2 .4 15.4 .3-15.3 .3 14.1 .4-13.8 .3 13.9 .3-14.9 .4 15.6 .3-15.7 .3 14.5 .3-13.3 .4 13.4 .3-13.9 .3 15.4 .4-15 .3 13.9 .3-16.9 .4 16.6 .3-16.7 .3 17.5 .3-14.3 .4 13.5 .3-14.4 .3 14.5 .4-13.8 .3 13.8 .3-14.5 .4 14.1 .3-14.1 .3 15.5 .4-14.8 .3 13.7 .3-13.4 .3 14.3 .4-17.7 .3 17.9 .3-15.8 .4 16.4 .3-15.5 .3 18.8 .4-19.8 .3 17.2 .3-18.4 .3 19.8 .4-21.6 .3 18.3 .3-14.2 .4 15.2 .3-15.5 .3 14.1 .4-14 .3 18.9 .3-19.3 .3 16.4 .4-17.6 .3 15.6 .3-16.4 .4 16.2 .3-13.9 .3 19 .4-20.5 .3 18 .3-19.6 .4 19.7 .3-17.3 .3 17.2 .3-19.1 .4 21.5 .3-22.9 .3 23 .4-18.8 .3 13.9 .3-14.4 .4 15.1 .3-15.9 .3 15.6 .3-16.3 .4 20 .3-18.3 .3 15.5 .4-15.4 .3 16.6 .4-99.7 .3 13.6 .4-16.3 .3 17.8 .3-15.8 .4 15 .3-15.8 .3 15.2 .4-15.6 .3 17.2 .3-15.5 .4 13.9 .3-14 .3 19 .3-19.1 .4 15.5 .3-15.9 .3 19.4 .4-23.9 .3 21.7 .3-17.6 .4 15.1 .3-14.9 .3 15.1 .4-14.3 .3 17 .3-17.6 .4 18 .3-17.3 .3 14.6 .4-15.2 .3 15.9 .3-16.4 .4 18.6 .3-18.1 .3 14.4 .3-15.5 .4 16.3 .3-18 .3 19.3 .4-16.4 .3 19.1 .3-18.7 .4 15.2 .3-15.8 .3 16 .4-17.5 .3 17.2 .3-20.2 .4 21.5 .3-17 .3 16.4 .4-16.1 .3 15.5 .3-17.5 .4 16.3 .3-17.2 .3 19.1 .3-16.3 .4 14.8 .3-19.5 .3 19.2 .4-18.5 .3 18.8 .3-14.4 .4 14.6 .3-19.7 .3 19.3 .4-15 .3 16.2 .3-15.8 .4 16.5 .3-17.2 .3 17.1 .4-16.5 .3 15.5 .3-16.4 .4 17.6 .3-18.8 .3 17.1 .4-14.8 .3 14.2 .3-15.9 .3 16.7 .4-14.7 .3 15.5 .3-16.9 .4 17.6 .3-20.5 .3 18.8 .4-16.9 .3 16.5 .3-15.1 .4 16.6 .3-15.6 .3 13.9 .4-14.8 .3 16.5 .3-16.2 .4 14.9 .3-16.6 .3 16.4 .4-16.1 .3 19.5 .3-19.5 .3 17.5 .4-15.5 .3 15.7 .3-16 .4 15.6 .3-15.6 .3 14.5 .4-15.8 .3 18 .3-18.1 .4 18.4 .3-16.5" fill="none" stroke="#000" stroke-width="0.72" stroke-linejoin="bevel"/>
<line x1="2.30" y1="408.00" x2="303.00" y2="408.00" stroke="#ff8a1a" stroke-width="2" stroke-dasharray="17.6 6.04"/>
<line x1="2.30" y1="491.00" x2="303.00" y2="491.00" stroke="#ff8a1a" stroke-width="2" stroke-dasharray="17.6 6.04"/>
<path d="M65.50 384.50 L65.50 384.50 L65.50 385.00 L65.50 385.50 L65.50 386.00 L65.50 386.50 L65.50 387.00 L65.50 387.50 L65.50 388.00 L65.50 388.50 L65.50 389.00 L65.50 389.50 L65.50 390.00 L65.50 390.50 L65.50 391.00 L65.50 391.50 L65.50 392.00 L65.50 392.50 L65.49 393.00 L65.49 393.50 L65.48 394.00 L65.47 394.50 L65.44 395.00 L65.40 395.50 L65.34 396.00 L65.24 396.50 L65.09 397.00 L64.86 397.50 L64.52 398.00 L64.05 398.50 L63.38 399.00 L62.47 399.50 L61.26 400.00 L59.68 400.50 L57.68 401.00 L55.20 401.50 L52.20 402.00 L48.68 402.50 L44.67 403.00 L40.21 403.50 L35.42 404.00 L30.44 404.50 L25.47 405.00 L20.71 405.50 L16.41 406.00 L12.77 406.50 L10.01 407.00 L8.29 407.50 L7.70 408.00 L8.29 408.50 L10.01 409.00 L12.77 409.50 L16.41 410.00 L20.71 410.50 L25.47 411.00 L30.44 411.50 L35.42 412.00 L40.21 412.50 L44.67 413.00 L48.68 413.50 L52.20 414.00 L55.20 414.50 L57.68 415.00 L59.68 415.50 L61.26 416.00 L62.47 416.50 L63.38 417.00 L64.05 417.50 L64.52 418.00 L64.86 418.50 L65.09 419.00 L65.24 419.50 L65.34 420.00 L65.40 420.50 L65.44 421.00 L65.47 421.50 L65.48 422.00 L65.49 422.50 L65.49 423.00 L65.50 423.50 L65.50 424.00 L65.50 424.50 L65.50 425.00 L65.50 425.50 L65.50 426.00 L65.50 426.50 L65.50 427.00 L65.50 427.50 L65.50 428.00 L65.50 428.50 L65.50 429.00 L65.50 429.50 L65.50 430.00 L65.50 430.50 L65.50 431.00 L65.50 431.50 L65.50 432.00 L65.50 432.50 L65.50 433.00 L65.50 433.50 L65.50 434.00 L65.50 434.50 L65.50 435.00 L65.50 435.50 L65.50 436.00 L65.50 436.50 L65.50 437.00 L65.50 437.50 L65.50 438.00 L65.50 438.50 L65.50 439.00 L65.50 439.50 L65.50 440.00 L65.50 440.50 L65.50 441.00 L65.50 441.50 L65.50 442.00 L65.50 442.50 L65.50 443.00 L65.50 443.50 L65.50 444.00 L65.50 444.50 L65.50 445.00 L65.50 445.50 L65.50 446.00 L65.50 446.50 L65.50 447.00 L65.50 447.50 L65.50 448.00 L65.50 448.50 L65.50 449.00 L65.50 449.50 L65.50 450.00 L65.50 450.50 L65.50 451.00 L65.50 451.50 L65.50 452.00 L65.50 452.50 L65.50 453.00 L65.50 453.50 L65.50 454.00 L65.50 454.50 L65.50 455.00 L65.50 455.50 L65.50 456.00 L65.50 456.50 L65.50 457.00 L65.50 457.50 L65.50 458.00 L65.50 458.50 L65.50 459.00 L65.50 459.50 L65.50 460.00 L65.50 460.50 L65.50 461.00 L65.50 461.50 L65.50 462.00 L65.50 462.50 L65.50 463.00 L65.50 463.50 L65.50 464.00 L65.50 464.50 L65.50 465.00 L65.50 465.50 L65.50 466.00 L65.50 466.50 L65.50 467.00 L65.50 467.50 L65.50 468.00 L65.50 468.50 L65.50 469.00 L65.50 469.50 L65.50 470.00 L65.50 470.50 L65.50 471.00 L65.50 471.50 L65.50 472.00 L65.50 472.50 L65.50 473.00 L65.50 473.50 L65.50 474.00 L65.50 474.50 L65.50 475.00 L65.50 475.50 L65.50 476.00 L65.50 476.50 L65.49 477.00 L65.49 477.50 L65.48 478.00 L65.46 478.50 L65.42 479.00 L65.37 479.50 L65.28 480.00 L65.13 480.50 L64.91 481.00 L64.58 481.50 L64.10 482.00 L63.40 482.50 L62.44 483.00 L61.13 483.50 L59.41 484.00 L57.19 484.50 L54.43 485.00 L51.09 485.50 L47.16 486.00 L42.69 486.50 L37.77 487.00 L32.56 487.50 L27.26 488.00 L22.12 488.50 L17.40 489.00 L13.37 489.50 L10.29 490.00 L8.36 490.50 L7.70 491.00 L8.36 491.50 L10.29 492.00 L13.37 492.50 L17.40 493.00 L22.12 493.50 L27.26 494.00 L32.56 494.50 L37.77 495.00 L42.69 495.50 L47.16 496.00 L51.09 496.50 L54.43 497.00 L57.19 497.50 L59.41 498.00 L61.13 498.50 L62.44 499.00 L63.40 499.50 L64.10 500.00 L64.58 500.50 L64.91 501.00 L65.13 501.50 L65.28 502.00 L65.37 502.50 L65.42 503.00 L65.46 503.50 L65.48 504.00 L65.49 504.50 L65.49 505.00 L65.50 505.50 L65.50 506.00 L65.50 506.50 L65.50 507.00 L65.50 507.00 Z" fill="#c3c3c3" stroke="none"/>
<line x1="65.50" y1="384.50" x2="65.50" y2="507.00" stroke="#5a5a5a" stroke-width="1.6" />
<path d="M65.50 384.50 L65.50 385.00 L65.50 385.50 L65.50 386.00 L65.50 386.50 L65.50 387.00 L65.50 387.50 L65.50 388.00 L65.50 388.50 L65.50 389.00 L65.50 389.50 L65.50 390.00 L65.50 390.50 L65.50 391.00 L65.50 391.50 L65.50 392.00 L65.50 392.50 L65.49 393.00 L65.49 393.50 L65.48 394.00 L65.47 394.50 L65.44 395.00 L65.40 395.50 L65.34 396.00 L65.24 396.50 L65.09 397.00 L64.86 397.50 L64.52 398.00 L64.05 398.50 L63.38 399.00 L62.47 399.50 L61.26 400.00 L59.68 400.50 L57.68 401.00 L55.20 401.50 L52.20 402.00 L48.68 402.50 L44.67 403.00 L40.21 403.50 L35.42 404.00 L30.44 404.50 L25.47 405.00 L20.71 405.50 L16.41 406.00 L12.77 406.50 L10.01 407.00 L8.29 407.50 L7.70 408.00 L8.29 408.50 L10.01 409.00 L12.77 409.50 L16.41 410.00 L20.71 410.50 L25.47 411.00 L30.44 411.50 L35.42 412.00 L40.21 412.50 L44.67 413.00 L48.68 413.50 L52.20 414.00 L55.20 414.50 L57.68 415.00 L59.68 415.50 L61.26 416.00 L62.47 416.50 L63.38 417.00 L64.05 417.50 L64.52 418.00 L64.86 418.50 L65.09 419.00 L65.24 419.50 L65.34 420.00 L65.40 420.50 L65.44 421.00 L65.47 421.50 L65.48 422.00 L65.49 422.50 L65.49 423.00 L65.50 423.50 L65.50 424.00 L65.50 424.50 L65.50 425.00 L65.50 425.50 L65.50 426.00 L65.50 426.50 L65.50 427.00 L65.50 427.50 L65.50 428.00 L65.50 428.50 L65.50 429.00 L65.50 429.50 L65.50 430.00 L65.50 430.50 L65.50 431.00 L65.50 431.50 L65.50 432.00 L65.50 432.50 L65.50 433.00 L65.50 433.50 L65.50 434.00 L65.50 434.50 L65.50 435.00 L65.50 435.50 L65.50 436.00 L65.50 436.50 L65.50 437.00 L65.50 437.50 L65.50 438.00 L65.50 438.50 L65.50 439.00 L65.50 439.50 L65.50 440.00 L65.50 440.50 L65.50 441.00 L65.50 441.50 L65.50 442.00 L65.50 442.50 L65.50 443.00 L65.50 443.50 L65.50 444.00 L65.50 444.50 L65.50 445.00 L65.50 445.50 L65.50 446.00 L65.50 446.50 L65.50 447.00 L65.50 447.50 L65.50 448.00 L65.50 448.50 L65.50 449.00 L65.50 449.50 L65.50 450.00 L65.50 450.50 L65.50 451.00 L65.50 451.50 L65.50 452.00 L65.50 452.50 L65.50 453.00 L65.50 453.50 L65.50 454.00 L65.50 454.50 L65.50 455.00 L65.50 455.50 L65.50 456.00 L65.50 456.50 L65.50 457.00 L65.50 457.50 L65.50 458.00 L65.50 458.50 L65.50 459.00 L65.50 459.50 L65.50 460.00 L65.50 460.50 L65.50 461.00 L65.50 461.50 L65.50 462.00 L65.50 462.50 L65.50 463.00 L65.50 463.50 L65.50 464.00 L65.50 464.50 L65.50 465.00 L65.50 465.50 L65.50 466.00 L65.50 466.50 L65.50 467.00 L65.50 467.50 L65.50 468.00 L65.50 468.50 L65.50 469.00 L65.50 469.50 L65.50 470.00 L65.50 470.50 L65.50 471.00 L65.50 471.50 L65.50 472.00 L65.50 472.50 L65.50 473.00 L65.50 473.50 L65.50 474.00 L65.50 474.50 L65.50 475.00 L65.50 475.50 L65.50 476.00 L65.50 476.50 L65.49 477.00 L65.49 477.50 L65.48 478.00 L65.46 478.50 L65.42 479.00 L65.37 479.50 L65.28 480.00 L65.13 480.50 L64.91 481.00 L64.58 481.50 L64.10 482.00 L63.40 482.50 L62.44 483.00 L61.13 483.50 L59.41 484.00 L57.19 484.50 L54.43 485.00 L51.09 485.50 L47.16 486.00 L42.69 486.50 L37.77 487.00 L32.56 487.50 L27.26 488.00 L22.12 488.50 L17.40 489.00 L13.37 489.50 L10.29 490.00 L8.36 490.50 L7.70 491.00 L8.36 491.50 L10.29 492.00 L13.37 492.50 L17.40 493.00 L22.12 493.50 L27.26 494.00 L32.56 494.50 L37.77 495.00 L42.69 495.50 L47.16 496.00 L51.09 496.50 L54.43 497.00 L57.19 497.50 L59.41 498.00 L61.13 498.50 L62.44 499.00 L63.40 499.50 L64.10 500.00 L64.58 500.50 L64.91 501.00 L65.13 501.50 L65.28 502.00 L65.37 502.50 L65.42 503.00 L65.46 503.50 L65.48 504.00 L65.49 504.50 L65.49 505.00 L65.50 505.50 L65.50 506.00 L65.50 506.50 L65.50 507.00" fill="none" stroke="#1a1ae6" stroke-width="1.25"/>
<line x1="65.50" y1="401.24" x2="68.50" y2="401.24" stroke="#777" stroke-width="1" />
<text transform="translate(81.00,406.34) scale(1.0,1)" font-size="14.6" text-anchor="start" fill="#111">16</text>
<line x1="65.50" y1="423.68" x2="68.50" y2="423.68" stroke="#777" stroke-width="1" />
<text transform="translate(81.00,428.78) scale(1.0,1)" font-size="14.6" text-anchor="start" fill="#111">12</text>
<line x1="65.50" y1="446.12" x2="68.50" y2="446.12" stroke="#777" stroke-width="1" />
<text transform="translate(81.00,451.22) scale(1.0,1)" font-size="14.6" text-anchor="start" fill="#111">8</text>
<line x1="65.50" y1="468.56" x2="68.50" y2="468.56" stroke="#777" stroke-width="1" />
<text transform="translate(81.00,473.66) scale(1.0,1)" font-size="14.6" text-anchor="start" fill="#111">4</text>
<line x1="65.50" y1="491.00" x2="68.50" y2="491.00" stroke="#777" stroke-width="1" />
<text transform="translate(81.00,496.10) scale(1.0,1)" font-size="14.6" text-anchor="start" fill="#111">0</text>
<text transform="translate(38.20,380.60) scale(1.045,1)" font-size="14.2" text-anchor="start" fill="#111">I (pA)</text>
<text transform="translate(3.80,453.20) scale(1.04,1)" font-size="14.4" text-anchor="start" fill="#111">+80 mV</text>
<polyline points="216.50,423.70 216.50,445.60 240.00,445.60" fill="none" stroke="#333" stroke-width="1.25"/>
<text transform="translate(182.80,439.10) scale(1.03,1)" font-size="14.4" text-anchor="start" fill="#111">4 pA</text>
<text transform="translate(203.60,460.60) scale(1.03,1)" font-size="14.4" text-anchor="start" fill="#111">300 ms</text>
<path d="M601.0 409.8L601.2 456.0M615.5 409.8L615.7 490.0M618.6 409.8L618.8 493.0M632.0 409.8L632.2 469.0M634.5 409.8L634.7 488.0" fill="none" stroke="#111" stroke-width="1.0"/>
<path d="M456.4 405.3l .6 8.7 .6-11.1 .6 11 .6-8.5 .6 12 .6-13 .6 10.3 .6-9.7 .6 14.8 .6-14.1 .6 8.2 .6-10.1 .6 13.6 .6-14.8 .6 13.8 .6-11.5 .6 20.8 .6-31.6 .6 31.6 .6-22.2 .6 12.5 .6-14.6 .6 13.9 .6-11.4 .6 10.7 .6-11.4 .6 11.4 .6-9.6 .7 11.8 .6-22.9 .6 30.6 .6-23.3 .6 12.8 .6-8.2 .6 12.6 .6-13.7 .6 9.7 .6-20.5 .6 20.1 .6-9.8 .6 15.5 .6-14.3 .6 9 .6-10.9 .6 19 .6-19 .6 10.8 .6-11.5 .6 11.8 .6-8.9 .6 12.6 .6-24.4 .6 24.6 .6-18.7 .6 14.5 .6-9.4 .6 10.6 .6-16.1 .6 16.6 .6-18.1 .6 16.2 .6-11.8 .6 13.9 .6-11.2 .6 17.3 .6-16.9 .6 8.9 .6-10.7 .6 13.8 .6-13.7 .6 14.7 .6-14.9 .6 14.3 .6-13 .6 13.2 .6-12.8 .6 11.9 .6-12.3 .6 9.9 .6-14.5 .6 17.2 .6-11.7 .6 20 .6-20 .6 9.1 .6-9.9 .7 18.5 .6-26.7 .6 17.7 .6-13.7 .6 25 .6-20.6 .6 9.3 .6-9 .6 16.3 .6-15.9 .6 10.9 .6-13.4 .6 13.8 .6-11.6 .6 11.1 .6-12.6 .6 14.7 .6-19.3 .6 16.6 .6-14 .6 13.8 .6-21.9 .6 21.5 .6-14.3 .6 19.5 .6-16.4 .6 14.8 .6-16.6 .6 16.7 .7 63.7 .6 9.1 .6-10.7 .7 9.1 .6-9.9 .6 11.9 .6-15.4 .4-73 .4 3.2 .4 75.5 .7 7.9 .7-8 .7 8.2 .7-7.8 .3-79.6 .6 15.5 .6-22 .6 18.2 .7-15 .6 11.2 .6-7.8 .6 12.5 .6-13.4 .4 54.5 .7 10.2 .7-7.4 .4 12.4 .6 7.7 .6-13.5 .7 14.1 .6-9 .6 8.5 .6-9.3 .7 8.5 .6-6.9 .6 6.7 .3-2.4 .6 11.6 .6-11.3 .6 14.8 .6-12.2 .6 8.2 .6-8 .7 17.8 .6-19.8 .6 12.6 .6-11 .6 8.5 .6-8.7 .6 8.9 .6-17.5 .6 18.1 .6-8.8 .6 8.9 .6-11.8 .7 14.6 .6-19.2 .6 20.7 .6-17.9 .6 18.3 .6-16.3 .6 10.5 .6-14.3 .6 17.5 .6-13.6 .6 10.9 .6-17.6 .7 20.3 .6-11.2 .6 8 .6-7.6 .6 9 .6-9 .6 8.5 .6-10.3 .6 10.3 .6-9.1 .6 12.5 .6-12.1 .7 9.3 .6-11.8 .6 16.4 .6-16.6 .6 11.3 .6-9.7 .6 10.7 .6-9.3 .6 9.5 .6-10 .6 8.4 .6-8.9 .7 16.8 .6-15.7 .6 11.5 .6-17.4 .6 19.2 .6-21.7 .6 16.6 .6-89.8 .6 15.5 .6-17.6 .6 22 .6-14.9 .6 11 .6-10.4 .6 21.5 .6-20.6 .6 12.5 .6-11.9 .6 13 .6-13.9 .6 12.3 .6-11.9 .6 19.1 .6-25.5 .6 23.4 .6-17.3 .6 17.2 .6-17.2 .6 11 .6-10.9 .6 12 .6-13.1 .6 9.9 .6-9 .6 11.6 .6-13 .6 13.9 .6-18 .6 26.4 .6-20.8 .6 10.3 .6-10.9 .6 9.6 .6-8.7 .6 8.6 .6-9.1 .6 12.1 .6-11.5 .6 9 .6-9.1 .6 11.3 .6-18.5 .6 16.8 .6-12.2 .6 13.1 .6-13.8 .6 23.2 .6-29.6 .6 18.5 .6-8.6 .6 9.6 .6-21.1 .6 21.9 .6-16.8 .6 18.6 .6-12.2 .6 12.3 .6-17.7 .6 25.6 .6-20.1 .6 11.3 .6-15.2 .6 13.2 .6-11.7 .6 11 .6-11.8 .6 15.5 .6-12 .6 12.1 .6-15.9 .6 23.3 .6-20.5 .6 20.4 .6-21.3 .6 18.2 .6-21.1 .6 16.7 .6-12.4 .6 9.4 .6-9 .6 10 .6-10.2 .6 18.6 .6-19.9 .6 11.7 .6-12.5 .6 14.5 .6-13.8 .6 14.9 .6-16.9 .6 16.1 .6-13.2 .6 10.1 .6-15.5 .6 21 .6-18 .6 11.3 .6-12.8 .6 13 .6-9 .6 8.7 .6-9.1 .6 21 .6-20.3 .6 20.3 .6-21.4 .6 10.9 .6-11.7 .6 10.5 .6-8.8 .6 12.1 .6-12.6 .6 13.8 .6-15.1 .6 19.9 .6-17.7 .6 12.4 .6-16.7 .6 18.2 .6-14.1 .6 9.2 .6-14.7 .6 14.8" fill="none" stroke="#000" stroke-width="1.0" stroke-linejoin="bevel"/>
<line x1="357.00" y1="410.50" x2="660.00" y2="410.50" stroke="#ff8a1a" stroke-width="2" stroke-dasharray="17.6 6.04"/>
<line x1="357.00" y1="484.50" x2="660.00" y2="484.50" stroke="#ff8a1a" stroke-width="2" stroke-dasharray="17.6 6.04"/>
<path d="M420.00 392.30 L419.88 392.30 L419.83 392.80 L419.77 393.30 L419.69 393.80 L419.59 394.30 L419.45 394.80 L419.28 395.30 L419.06 395.80 L418.78 396.30 L418.44 396.80 L418.02 397.30 L417.51 397.80 L416.89 398.30 L416.15 398.80 L415.28 399.30 L414.27 399.80 L413.09 400.30 L411.76 400.80 L410.25 401.30 L408.56 401.80 L406.71 402.30 L404.69 402.80 L402.51 403.30 L400.21 403.80 L397.80 404.30 L395.32 404.80 L392.81 405.30 L390.30 405.80 L387.86 406.30 L385.52 406.80 L383.33 407.30 L381.35 407.80 L379.63 408.30 L378.21 408.80 L377.11 409.30 L376.38 409.80 L376.03 410.30 L376.07 410.80 L376.50 411.30 L377.30 411.80 L378.47 412.30 L379.95 412.80 L381.73 413.30 L383.75 413.80 L385.97 414.30 L388.34 414.80 L390.80 415.30 L393.31 415.80 L395.82 416.30 L398.29 416.80 L400.68 417.30 L402.96 417.80 L405.10 418.30 L407.09 418.80 L408.91 419.30 L410.56 419.80 L412.04 420.30 L413.34 420.80 L414.48 421.30 L415.47 421.80 L416.31 422.30 L417.02 422.80 L417.62 423.30 L418.11 423.80 L418.52 424.30 L418.84 424.80 L419.11 425.30 L419.32 425.80 L419.48 426.30 L419.61 426.80 L419.71 427.30 L419.79 427.80 L419.84 428.30 L419.89 428.80 L419.92 429.30 L419.94 429.80 L419.96 430.30 L419.97 430.80 L419.98 431.30 L419.99 431.80 L419.99 432.30 L419.99 432.80 L420.00 433.30 L420.00 433.80 L420.00 434.30 L420.00 434.80 L420.00 435.30 L420.00 435.80 L420.00 436.30 L420.00 436.80 L420.00 437.30 L420.00 437.80 L420.00 438.30 L420.00 438.80 L420.00 439.30 L420.00 439.80 L420.00 440.30 L420.00 440.80 L420.00 441.30 L420.00 441.80 L420.00 442.30 L420.00 442.80 L420.00 443.30 L420.00 443.80 L420.00 444.30 L420.00 444.80 L420.00 445.30 L420.00 445.80 L420.00 446.30 L420.00 446.80 L420.00 447.30 L420.00 447.80 L420.00 448.30 L420.00 448.80 L420.00 449.30 L420.00 449.80 L420.00 450.30 L420.00 450.80 L420.00 451.30 L420.00 451.80 L420.00 452.30 L420.00 452.80 L420.00 453.30 L420.00 453.80 L420.00 454.30 L420.00 454.80 L420.00 455.30 L420.00 455.80 L420.00 456.30 L420.00 456.80 L420.00 457.30 L420.00 457.80 L420.00 458.30 L420.00 458.80 L420.00 459.30 L420.00 459.80 L420.00 460.30 L420.00 460.80 L420.00 461.30 L420.00 461.80 L420.00 462.30 L419.99 462.80 L419.99 463.30 L419.99 463.80 L419.98 464.30 L419.98 464.80 L419.97 465.30 L419.95 465.80 L419.94 466.30 L419.92 466.80 L419.89 467.30 L419.85 467.80 L419.80 468.30 L419.74 468.80 L419.67 469.30 L419.58 469.80 L419.46 470.30 L419.33 470.80 L419.16 471.30 L418.96 471.80 L418.72 472.30 L418.44 472.80 L418.11 473.30 L417.74 473.80 L417.31 474.30 L416.83 474.80 L416.30 475.30 L415.71 475.80 L415.06 476.30 L414.37 476.80 L413.63 477.30 L412.86 477.80 L412.05 478.30 L411.23 478.80 L410.41 479.30 L409.59 479.80 L408.79 480.30 L408.04 480.80 L407.34 481.30 L406.70 481.80 L406.15 482.30 L405.70 482.80 L405.35 483.30 L405.12 483.80 L405.01 484.30 L405.02 484.80 L405.16 485.30 L405.41 485.80 L405.78 486.30 L406.26 486.80 L406.82 487.30 L407.47 487.80 L408.18 488.30 L408.95 488.80 L409.75 489.30 L410.57 489.80 L411.40 490.30 L412.22 490.80 L413.02 491.30 L413.78 491.80 L414.51 492.30 L415.20 492.80 L415.83 493.30 L416.41 493.80 L416.93 494.30 L417.40 494.80 L417.82 495.30 L418.18 495.80 L418.50 496.30 L418.77 496.80 L419.00 497.30 L419.19 497.80 L419.36 498.30 L419.49 498.80 L419.60 499.30 L419.69 499.80 L419.76 500.30 L419.81 500.80 L419.86 501.30 L419.89 501.80 L419.92 502.30 L419.94 502.80 L419.96 503.30 L419.97 503.80 L419.98 504.30 L419.98 504.80 L419.99 505.30 L419.99 505.80 L419.99 506.30 L420.00 506.80 L420.00 507.30 L420.00 507.80 L420.00 508.30 L420.00 508.30 Z" fill="#c3c3c3" stroke="none"/>
<line x1="420.00" y1="385.00" x2="420.00" y2="508.60" stroke="#5a5a5a" stroke-width="1.6" />
<path d="M419.88 392.30 L419.83 392.80 L419.77 393.30 L419.69 393.80 L419.59 394.30 L419.45 394.80 L419.28 395.30 L419.06 395.80 L418.78 396.30 L418.44 396.80 L418.02 397.30 L417.51 397.80 L416.89 398.30 L416.15 398.80 L415.28 399.30 L414.27 399.80 L413.09 400.30 L411.76 400.80 L410.25 401.30 L408.56 401.80 L406.71 402.30 L404.69 402.80 L402.51 403.30 L400.21 403.80 L397.80 404.30 L395.32 404.80 L392.81 405.30 L390.30 405.80 L387.86 406.30 L385.52 406.80 L383.33 407.30 L381.35 407.80 L379.63 408.30 L378.21 408.80 L377.11 409.30 L376.38 409.80 L376.03 410.30 L376.07 410.80 L376.50 411.30 L377.30 411.80 L378.47 412.30 L379.95 412.80 L381.73 413.30 L383.75 413.80 L385.97 414.30 L388.34 414.80 L390.80 415.30 L393.31 415.80 L395.82 416.30 L398.29 416.80 L400.68 417.30 L402.96 417.80 L405.10 418.30 L407.09 418.80 L408.91 419.30 L410.56 419.80 L412.04 420.30 L413.34 420.80 L414.48 421.30 L415.47 421.80 L416.31 422.30 L417.02 422.80 L417.62 423.30 L418.11 423.80 L418.52 424.30 L418.84 424.80 L419.11 425.30 L419.32 425.80 L419.48 426.30 L419.61 426.80 L419.71 427.30 L419.79 427.80 L419.84 428.30 L419.89 428.80 L419.92 429.30 L419.94 429.80 L419.96 430.30 L419.97 430.80 L419.98 431.30 L419.99 431.80 L419.99 432.30 L419.99 432.80 L420.00 433.30 L420.00 433.80 L420.00 434.30 L420.00 434.80 L420.00 435.30 L420.00 435.80 L420.00 436.30 L420.00 436.80 L420.00 437.30 L420.00 437.80 L420.00 438.30 L420.00 438.80 L420.00 439.30 L420.00 439.80 L420.00 440.30 L420.00 440.80 L420.00 441.30 L420.00 441.80 L420.00 442.30 L420.00 442.80 L420.00 443.30 L420.00 443.80 L420.00 444.30 L420.00 444.80 L420.00 445.30 L420.00 445.80 L420.00 446.30 L420.00 446.80 L420.00 447.30 L420.00 447.80 L420.00 448.30 L420.00 448.80 L420.00 449.30 L420.00 449.80 L420.00 450.30 L420.00 450.80 L420.00 451.30 L420.00 451.80 L420.00 452.30 L420.00 452.80 L420.00 453.30 L420.00 453.80 L420.00 454.30 L420.00 454.80 L420.00 455.30 L420.00 455.80 L420.00 456.30 L420.00 456.80 L420.00 457.30 L420.00 457.80 L420.00 458.30 L420.00 458.80 L420.00 459.30 L420.00 459.80 L420.00 460.30 L420.00 460.80 L420.00 461.30 L420.00 461.80 L420.00 462.30 L419.99 462.80 L419.99 463.30 L419.99 463.80 L419.98 464.30 L419.98 464.80 L419.97 465.30 L419.95 465.80 L419.94 466.30 L419.92 466.80 L419.89 467.30 L419.85 467.80 L419.80 468.30 L419.74 468.80 L419.67 469.30 L419.58 469.80 L419.46 470.30 L419.33 470.80 L419.16 471.30 L418.96 471.80 L418.72 472.30 L418.44 472.80 L418.11 473.30 L417.74 473.80 L417.31 474.30 L416.83 474.80 L416.30 475.30 L415.71 475.80 L415.06 476.30 L414.37 476.80 L413.63 477.30 L412.86 477.80 L412.05 478.30 L411.23 478.80 L410.41 479.30 L409.59 479.80 L408.79 480.30 L408.04 480.80 L407.34 481.30 L406.70 481.80 L406.15 482.30 L405.70 482.80 L405.35 483.30 L405.12 483.80 L405.01 484.30 L405.02 484.80 L405.16 485.30 L405.41 485.80 L405.78 486.30 L406.26 486.80 L406.82 487.30 L407.47 487.80 L408.18 488.30 L408.95 488.80 L409.75 489.30 L410.57 489.80 L411.40 490.30 L412.22 490.80 L413.02 491.30 L413.78 491.80 L414.51 492.30 L415.20 492.80 L415.83 493.30 L416.41 493.80 L416.93 494.30 L417.40 494.80 L417.82 495.30 L418.18 495.80 L418.50 496.30 L418.77 496.80 L419.00 497.30 L419.19 497.80 L419.36 498.30 L419.49 498.80 L419.60 499.30 L419.69 499.80 L419.76 500.30 L419.81 500.80 L419.86 501.30 L419.89 501.80 L419.92 502.30 L419.94 502.80 L419.96 503.30 L419.97 503.80 L419.98 504.30 L419.98 504.80 L419.99 505.30 L419.99 505.80 L419.99 506.30 L420.00 506.80 L420.00 507.30 L420.00 507.80 L420.00 508.30" fill="none" stroke="#1a1ae6" stroke-width="1.25"/>
<line x1="420.00" y1="410.50" x2="423.00" y2="410.50" stroke="#777" stroke-width="1" />
<text transform="translate(434.90,415.60) scale(1.0,1)" font-size="14.6" text-anchor="start" fill="#111">0</text>
<line x1="420.00" y1="441.70" x2="423.00" y2="441.70" stroke="#777" stroke-width="1" />
<text transform="translate(434.90,446.80) scale(1.0,1)" font-size="14.6" text-anchor="end" fill="#111">-</text>
<text transform="translate(434.90,446.80) scale(1.0,1)" font-size="14.6" text-anchor="start" fill="#111">3</text>
<line x1="420.00" y1="472.90" x2="423.00" y2="472.90" stroke="#777" stroke-width="1" />
<text transform="translate(434.90,478.00) scale(1.0,1)" font-size="14.6" text-anchor="end" fill="#111">-</text>
<text transform="translate(434.90,478.00) scale(1.0,1)" font-size="14.6" text-anchor="start" fill="#111">6</text>
<line x1="420.00" y1="504.10" x2="423.00" y2="504.10" stroke="#777" stroke-width="1" />
<text transform="translate(434.90,509.20) scale(1.0,1)" font-size="14.6" text-anchor="end" fill="#111">-</text>
<text transform="translate(434.90,509.20) scale(1.0,1)" font-size="14.6" text-anchor="start" fill="#111">9</text>
<text transform="translate(393.20,380.80) scale(1.045,1)" font-size="14.2" text-anchor="start" fill="#111">I (pA)</text>
<text transform="translate(360.00,454.70) scale(1.04,1)" font-size="14.4" text-anchor="start" fill="#111">-40 mV</text>
<polyline points="493.30,431.20 493.30,451.40 508.60,451.40" fill="none" stroke="#333" stroke-width="1.25"/>
<text transform="translate(459.00,446.00) scale(1.03,1)" font-size="14.4" text-anchor="start" fill="#111">2 pA</text>
<text transform="translate(481.40,466.80) scale(1.03,1)" font-size="14.4" text-anchor="start" fill="#111">10 ms</text>
<path d="M276.7 594.7L276.9 676.7" fill="none" stroke="#111" stroke-width="1.0"/>
<path d="M108.3 584.7l .3 18.3 .4-17.9 .3 19.4 .3-18.3 .4 17.9 .3-17.5 .3 16.5 .4-18.2 .3 19.5 .3-18.1 .4 18.4 .3-18.3 .3 19 .4-21 .3 21.1 .4-19.5 .3 16.8 .3-16.3 .4 17.5 .3-22.1 .3 21.9 .4-17.3 .3 17.5 .3-19.6 .4 21 .3-18.8 .3 17.3 .4-19.2 .3 18.7 .3-18.9 .4 19 .3-21.5 .3 22.4 .4-18.8 .3 17.7 .3-22.5 .4 22.1 .3-17.9 .4 17.8 .3-18.8 .3 18.9 .4-16.4 .3 16.3 .3-18.7 .4 18.8 .3-16.5 .3 19.5 .4-19.5 .3 17.3 .3-17.2 .4 22.1 .3-22.4 .5 82.3 .3 20.3 .4-18.4 .3 18.3 .3-18.9 .4 18.3 .3-16.5 .3 16.8 .3-17 .4 21.4 .3-23.9 .3 19.2 .4-16.9 .3 17.4 .3-19.8 .4 19 .3-17.4 .3 22 .4-23.4 .3 19.3 .3-17.2 .3 17.4 .4-17.1 .3 17.2 .3-20.1 .4 19.7 .3-18.8 .3 20.4 .4-20.5 .3 20.1 .3-20.3 .3 19.9 .4-19.8 .3 21.4 .3-22 .4 23.4 .3-21.9 .3 17.8 .4-17.3 .3 17.8 .3-18.9 .4 18.7 .3-16.8 .3 17 .3-19 .4 18.5 .3-18.1 .3 18.9 .4-19.3 .3 19 .3-20 .4 22.8 .3-20 .3 17.9 .4-18.6 .3 18.4 .3-17.9 .3 18.4 .4-18.3 .3 21.5 .3-21 .4 16.3 .3-16.9 .3 17.6 .4-17.9 .3 19.4 .3-18.7 .3 18.8 .4-21.6 .3 20.1 .3-18.8 .4 18.2 .3-16.9 .3 16.9 .4-17.3 .3 17.2 .3-21.2 .4 23.4 .3-22 .3 21.7 .3-18.8 .4 17 .3-17.3 .3 20.5 .4-20.6 .3 18.3 .3-18.7 .4 18.3 .3-17.2 .3 17.2 .4-17.7 .3 16.9 .3-17.9 .3 18.3 .4-17.5 .3 18.5 .3-17.7 .4 18.2 .3-19.8 .3 18.4 .4-20.4 .3 24.2 .3-20.4 .3 18.5 .4-18.6 .3 17.7 .3-18.1 .4 17 .3-16.7 .3 17.7 .4-17.7 .3 16.4 .3-16.7 .4 16.9 .3-17.2 .3 17.9 .3-18 .4 18.3 .3-17.6 .3 18.1 .4-18.6 .3 17.6 .3-18.6 .4 18 .3-17.5 .3 20.1 .4-19.5 .3 20.5 .3-20.6 .3 18 .4-19.2 .3 18.2 .3-19.1 .4 20.2 .3-17.9 .3 17.8 .4-17.5 .3 19.7 .3-19.4 .4 17 .3-17.7 .3 17.3 .3-20.6 .4 21 .3-17.7 .3 19 .4-19 .3 17.4 .3-17.9 .4 17.8 .3-16.9 .3 16.3 .3-16.1 .4 16.3 .3-16.3 .3 18.1 .4-21.6 .3 20.8 .3-17.3 .4 17 .3-19 .3 18.8 .4-19.8 .3 20.5 .3-17.5 .3 16.3 .4-18 .3 18 .3-16.5 .4 18 .3-18.4 .3 17.6 .4-17.3 .3 21.4 .3-22.8 .4 18.1 .3-16.9 .3 16.7 .3-17.8 .4 18.6 .3-18.2 .3 20.5 .4-19.8 .3 20.9 .3-24 .4 19.9 .3-16.9 .3 16.7 .3-18.3 .4 18.3 .3-16.8 .3 18.1 .4-18.1 .3 21.5 .3-22.1 .4 18.1 .3-20.2 .3 21.8 .4-23.3 .3 21.6 .3-17.1 .3 16.8 .4-17.3 .3 20.8 .3-23.8 .4 20.2 .3-17.5 .3 18.6 .4-21.4 .3 22.4 .3-18.8 .4 19.6 .3-21 .3 19.9 .3-18.2 .4 18.1 .3-19.5 .3 18.3 .4-21 .3 21.1 .3-19.3 .4 19.4 .3-17.7 .3 17.8 .4-19.1 .3 19.8 .3-22.7 .3 23 .4-19.5 .3 17.9 .3-16.5 .4 16.2 .3-19.5 .3 20.3 .4-18.8 .3 18.5 .3-16.9 .3 18.8 .4-18.8 .3 16.9 .3-20.6 .4 22.3 .3-22 .3 23.3 .4-24.6 .3 22.5 .3-20.4 .4 19.1 .3-18.7 .3 20.5 .3-18.9 .4 21.8 .3-21.2 .3 17.5 .4-17.5 .3 17.3 .3-17.5 .4 17.7 .3-18.5 .3 20.6 .4-24.1 .3 21 .3-21.2 .3 22.2 .4-17.2 .3 16.2 .3-17.7 .4 21.9 .3-21.1 .3 18.2 .4-20.5 .3 19.7 .3-17.2 .3 16.9 .4-16.5 .3 17.3 .3-18.3 .4 19.8 .3-20.4 .3 22.7 .4-22.9 .3 18 .3-21.1 .4 22.3 .3-18.1 .3 18.1 .3-17.3 .4 16.3 .3-16.5 .3 16.7 .4-17.6 .3 22.1 .3-22.8 .4 20.5 .3-18.9 .3 16.7 .4-17.2 .3 21.3 .3-25.6 .3 22.6 .4-19.5 .3 18.6 .3-17.1 .4 16.7 .3-17.6 .3 17.6 .4-17.6 .3 18.1 .3-16.8 .3 16.8 .4-18.9 .3 20.7 .3-18.7 .4 16.8 .3-18.9 .3 19.9 .4-18.6 .3 20.8 .3-20.2 .4 16.4 .3-16.2 .3 16.9 .3-17.9 .4 17.5 .3-16.9 .3 20.1 .4-20.4 .3 16.9 .5-104.6 .3 19.7 .4-16.4 .3 16.8 .3-19.1 .4 19.7 .3-19.3 .3 19.9 .3-22.1 .4 20.7 .3-16.9 .3 18.5 .4-18.8 .3 18.7 .3-18.9 .4 17.9 .3-17.1 .3 22 .4-22.1 .3 17.4 .3-19.2 .3 21 .4-23.9 .3 22.1 .3-18.4 .4 19.3 .3-19.7 .3 17.7 .4-19 .3 19.6 .3-18.3 .4 18.4 .3-17.6 .3 17.4 .4-17.6 .3 17.2 .3-19.8 .3 19.9 .4-18.6 .3 19.2 .3-16.9 .4 16.8 .3-22.7 .3 26.2 .4-23.9 .3 25.5 .3-27.2 .4 21.7 .3-17.6 .3 18 .3-18.4 .4 18.2 .3-17.9 .3 19.3 .4-19.4 .3 20 .3-21.3 .4 19.2 .3-17.8 .3 17.9 .4-18.8 .3 19.4 .3-17.6 .3 17.2 .4-17.6 .3 19.2 .3-18.9 .4 18.4 .3-19.7 .3 18.4 .4-17.4 .3 22.7 .3-23.9 .4 20.9 .3-19.6 .3 19.6 .4-20.1 .3 17.8 .3-18.8 .3 21.6 .4-20.4 .3 17.7 .3-17.1 .4 17 .3-20 .3 22.8 .4-20.4 .3 19.7 .3-18.9 .4 17.2 .3-18.6 .3 17.6 .3-16.9 .4 17.7 .3-17.5 .3 18.5 .4-17.8 .3 17.7 .3-18.1 .4 20.7 .3-21.9 .3 18.3 .4-17.4 .3 18.4 .3-17.9 .3 16.9 .4-17.5 .3 17 .3-16.7 .4 17 .3-17.4 .3 19.8 .4-19.5 .3 17.8 .3-17.3 .4 16.6 .3-19.2 .3 20.1 .3-20.3 .4 19.4 .3-17.5 .3 17.2 .4-16.6 .3 16.6 .3-17 .4 18.1 .3-19.5 .3 24.1 .4-23.2 .3 18.1 .3-17.2 .4 17.2 .3-18.5 .3 18.3 .3-22.2 .4 21.8 .3-17.6 .3 18.1 .4-17.4 .3 22.4 .3-22.6 .4 18.9 .3-19.1 .3 17.6 .4-17.6 .3 17.9 .3-16.9 .3 21.9 .4-23.8 .3 19.2 .3-17.5 .4 18.4 .3-20 .3 19.6 .4-19 .3 18.7 .3-18.6 .4 17.5 .3-18.3 .3 19.7 .3-19.2 .4 18.6 .3-18.6 .3 18.3 .4-22.7 .3 23.8 .3-19.6 .4 22.6 .3-23.2 .3 21.7 .4-22.6 .3 19.2 .3-17 .4 19.1 .3-21.7 .3 23.7 .3-20.1 .4 16.1 .3-17.9 .3 18.1 .4-16.9 .3 20.8 .3-26.1 .4 24.8 .3-23.6 .3 23.1 .4-18.6 .3 17.6 .3-21 .3 21.8 .4-21 .3 19.2 .3-17 .4 19.8 .3-21.3" fill="none" stroke="#000" stroke-width="0.72" stroke-linejoin="bevel"/>
<line x1="2.30" y1="596.00" x2="303.00" y2="596.00" stroke="#ff8a1a" stroke-width="2" stroke-dasharray="17.6 6.04"/>
<line x1="2.30" y1="680.50" x2="303.00" y2="680.50" stroke="#ff8a1a" stroke-width="2" stroke-dasharray="17.6 6.04"/>
<path d="M65.50 572.70 L65.50 572.70 L65.50 573.20 L65.50 573.70 L65.50 574.20 L65.50 574.70 L65.50 575.20 L65.50 575.70 L65.50 576.20 L65.50 576.70 L65.49 577.20 L65.49 577.70 L65.48 578.20 L65.48 578.70 L65.46 579.20 L65.45 579.70 L65.42 580.20 L65.38 580.70 L65.33 581.20 L65.25 581.70 L65.15 582.20 L65.01 582.70 L64.82 583.20 L64.58 583.70 L64.26 584.20 L63.85 584.70 L63.33 585.20 L62.69 585.70 L61.90 586.20 L60.94 586.70 L59.80 587.20 L58.46 587.70 L56.91 588.20 L55.15 588.70 L53.18 589.20 L51.01 589.70 L48.68 590.20 L46.21 590.70 L43.65 591.20 L41.05 591.70 L38.48 592.20 L36.00 592.70 L33.69 593.20 L31.63 593.70 L29.87 594.20 L28.48 594.70 L27.51 595.20 L26.99 595.70 L26.94 596.20 L27.36 596.70 L28.25 597.20 L29.56 597.70 L31.25 598.20 L33.26 598.70 L35.52 599.20 L37.97 599.70 L40.53 600.20 L43.13 600.70 L45.70 601.20 L48.19 601.70 L50.56 602.20 L52.76 602.70 L54.77 603.20 L56.57 603.70 L58.16 604.20 L59.54 604.70 L60.73 605.20 L61.72 605.70 L62.54 606.20 L63.22 606.70 L63.76 607.20 L64.19 607.70 L64.52 608.20 L64.78 608.70 L64.98 609.20 L65.13 609.70 L65.23 610.20 L65.31 610.70 L65.37 611.20 L65.41 611.70 L65.44 612.20 L65.46 612.70 L65.47 613.20 L65.48 613.70 L65.49 614.20 L65.49 614.70 L65.50 615.20 L65.50 615.70 L65.50 616.20 L65.50 616.70 L65.50 617.20 L65.50 617.70 L65.50 618.20 L65.50 618.70 L65.50 619.20 L65.50 619.70 L65.50 620.20 L65.50 620.70 L65.50 621.20 L65.50 621.70 L65.50 622.20 L65.50 622.70 L65.50 623.20 L65.50 623.70 L65.50 624.20 L65.50 624.70 L65.50 625.20 L65.50 625.70 L65.50 626.20 L65.50 626.70 L65.50 627.20 L65.50 627.70 L65.50 628.20 L65.50 628.70 L65.50 629.20 L65.50 629.70 L65.50 630.20 L65.50 630.70 L65.50 631.20 L65.50 631.70 L65.50 632.20 L65.50 632.70 L65.50 633.20 L65.50 633.70 L65.50 634.20 L65.50 634.70 L65.50 635.20 L65.50 635.70 L65.50 636.20 L65.50 636.70 L65.50 637.20 L65.50 637.70 L65.50 638.20 L65.50 638.70 L65.50 639.20 L65.50 639.70 L65.50 640.20 L65.50 640.70 L65.50 641.20 L65.50 641.70 L65.50 642.20 L65.50 642.70 L65.50 643.20 L65.50 643.70 L65.50 644.20 L65.50 644.70 L65.50 645.20 L65.50 645.70 L65.50 646.20 L65.50 646.70 L65.50 647.20 L65.50 647.70 L65.50 648.20 L65.50 648.70 L65.50 649.20 L65.50 649.70 L65.50 650.20 L65.50 650.70 L65.50 651.20 L65.50 651.70 L65.50 652.20 L65.50 652.70 L65.50 653.20 L65.50 653.70 L65.50 654.20 L65.50 654.70 L65.50 655.20 L65.50 655.70 L65.50 656.20 L65.50 656.70 L65.50 657.20 L65.50 657.70 L65.50 658.20 L65.50 658.70 L65.50 659.20 L65.50 659.70 L65.50 660.20 L65.50 660.70 L65.50 661.20 L65.50 661.70 L65.49 662.20 L65.49 662.70 L65.48 663.20 L65.47 663.70 L65.45 664.20 L65.43 664.70 L65.39 665.20 L65.34 665.70 L65.26 666.20 L65.15 666.70 L65.00 667.20 L64.79 667.70 L64.50 668.20 L64.11 668.70 L63.60 669.20 L62.94 669.70 L62.09 670.20 L61.03 670.70 L59.71 671.20 L58.11 671.70 L56.19 672.20 L53.92 672.70 L51.30 673.20 L48.32 673.70 L44.99 674.20 L41.34 674.70 L37.43 675.20 L33.32 675.70 L29.11 676.20 L24.90 676.70 L20.81 677.20 L16.96 677.70 L13.50 678.20 L10.53 678.70 L8.18 679.20 L6.53 679.70 L5.65 680.20 L5.56 680.70 L6.29 681.20 L7.79 681.70 L10.01 682.20 L12.86 682.70 L16.24 683.20 L20.01 683.70 L24.06 684.20 L28.26 684.70 L32.48 685.20 L36.62 685.70 L40.58 686.20 L44.28 686.70 L47.68 687.20 L50.73 687.70 L53.43 688.20 L55.76 688.70 L57.75 689.20 L59.42 689.70 L60.79 690.20 L61.90 690.70 L62.79 691.20 L63.48 691.70 L64.02 692.20 L64.43 692.70 L64.73 693.20 L64.96 693.70 L65.13 694.20 L65.24 694.70 L65.33 695.20 L65.50 695.20 Z" fill="#c3c3c3" stroke="none"/>
<line x1="65.50" y1="572.70" x2="65.50" y2="695.50" stroke="#5a5a5a" stroke-width="1.6" />
<path d="M65.50 572.70 L65.50 573.20 L65.50 573.70 L65.50 574.20 L65.50 574.70 L65.50 575.20 L65.50 575.70 L65.50 576.20 L65.50 576.70 L65.49 577.20 L65.49 577.70 L65.48 578.20 L65.48 578.70 L65.46 579.20 L65.45 579.70 L65.42 580.20 L65.38 580.70 L65.33 581.20 L65.25 581.70 L65.15 582.20 L65.01 582.70 L64.82 583.20 L64.58 583.70 L64.26 584.20 L63.85 584.70 L63.33 585.20 L62.69 585.70 L61.90 586.20 L60.94 586.70 L59.80 587.20 L58.46 587.70 L56.91 588.20 L55.15 588.70 L53.18 589.20 L51.01 589.70 L48.68 590.20 L46.21 590.70 L43.65 591.20 L41.05 591.70 L38.48 592.20 L36.00 592.70 L33.69 593.20 L31.63 593.70 L29.87 594.20 L28.48 594.70 L27.51 595.20 L26.99 595.70 L26.94 596.20 L27.36 596.70 L28.25 597.20 L29.56 597.70 L31.25 598.20 L33.26 598.70 L35.52 599.20 L37.97 599.70 L40.53 600.20 L43.13 600.70 L45.70 601.20 L48.19 601.70 L50.56 602.20 L52.76 602.70 L54.77 603.20 L56.57 603.70 L58.16 604.20 L59.54 604.70 L60.73 605.20 L61.72 605.70 L62.54 606.20 L63.22 606.70 L63.76 607.20 L64.19 607.70 L64.52 608.20 L64.78 608.70 L64.98 609.20 L65.13 609.70 L65.23 610.20 L65.31 610.70 L65.37 611.20 L65.41 611.70 L65.44 612.20 L65.46 612.70 L65.47 613.20 L65.48 613.70 L65.49 614.20 L65.49 614.70 L65.50 615.20 L65.50 615.70 L65.50 616.20 L65.50 616.70 L65.50 617.20 L65.50 617.70 L65.50 618.20 L65.50 618.70 L65.50 619.20 L65.50 619.70 L65.50 620.20 L65.50 620.70 L65.50 621.20 L65.50 621.70 L65.50 622.20 L65.50 622.70 L65.50 623.20 L65.50 623.70 L65.50 624.20 L65.50 624.70 L65.50 625.20 L65.50 625.70 L65.50 626.20 L65.50 626.70 L65.50 627.20 L65.50 627.70 L65.50 628.20 L65.50 628.70 L65.50 629.20 L65.50 629.70 L65.50 630.20 L65.50 630.70 L65.50 631.20 L65.50 631.70 L65.50 632.20 L65.50 632.70 L65.50 633.20 L65.50 633.70 L65.50 634.20 L65.50 634.70 L65.50 635.20 L65.50 635.70 L65.50 636.20 L65.50 636.70 L65.50 637.20 L65.50 637.70 L65.50 638.20 L65.50 638.70 L65.50 639.20 L65.50 639.70 L65.50 640.20 L65.50 640.70 L65.50 641.20 L65.50 641.70 L65.50 642.20 L65.50 642.70 L65.50 643.20 L65.50 643.70 L65.50 644.20 L65.50 644.70 L65.50 645.20 L65.50 645.70 L65.50 646.20 L65.50 646.70 L65.50 647.20 L65.50 647.70 L65.50 648.20 L65.50 648.70 L65.50 649.20 L65.50 649.70 L65.50 650.20 L65.50 650.70 L65.50 651.20 L65.50 651.70 L65.50 652.20 L65.50 652.70 L65.50 653.20 L65.50 653.70 L65.50 654.20 L65.50 654.70 L65.50 655.20 L65.50 655.70 L65.50 656.20 L65.50 656.70 L65.50 657.20 L65.50 657.70 L65.50 658.20 L65.50 658.70 L65.50 659.20 L65.50 659.70 L65.50 660.20 L65.50 660.70 L65.50 661.20 L65.50 661.70 L65.49 662.20 L65.49 662.70 L65.48 663.20 L65.47 663.70 L65.45 664.20 L65.43 664.70 L65.39 665.20 L65.34 665.70 L65.26 666.20 L65.15 666.70 L65.00 667.20 L64.79 667.70 L64.50 668.20 L64.11 668.70 L63.60 669.20 L62.94 669.70 L62.09 670.20 L61.03 670.70 L59.71 671.20 L58.11 671.70 L56.19 672.20 L53.92 672.70 L51.30 673.20 L48.32 673.70 L44.99 674.20 L41.34 674.70 L37.43 675.20 L33.32 675.70 L29.11 676.20 L24.90 676.70 L20.81 677.20 L16.96 677.70 L13.50 678.20 L10.53 678.70 L8.18 679.20 L6.53 679.70 L5.65 680.20 L5.56 680.70 L6.29 681.20 L7.79 681.70 L10.01 682.20 L12.86 682.70 L16.24 683.20 L20.01 683.70 L24.06 684.20 L28.26 684.70 L32.48 685.20 L36.62 685.70 L40.58 686.20 L44.28 686.70 L47.68 687.20 L50.73 687.70 L53.43 688.20 L55.76 688.70 L57.75 689.20 L59.42 689.70 L60.79 690.20 L61.90 690.70 L62.79 691.20 L63.48 691.70 L64.02 692.20 L64.43 692.70 L64.73 693.20 L64.96 693.70 L65.13 694.20 L65.24 694.70 L65.33 695.20" fill="none" stroke="#1a1ae6" stroke-width="1.25"/>
<line x1="65.50" y1="588.22" x2="68.50" y2="588.22" stroke="#777" stroke-width="1" />
<text transform="translate(81.00,593.32) scale(1.0,1)" font-size="14.6" text-anchor="start" fill="#111">12</text>
<line x1="65.50" y1="618.98" x2="68.50" y2="618.98" stroke="#777" stroke-width="1" />
<text transform="translate(81.00,624.08) scale(1.0,1)" font-size="14.6" text-anchor="start" fill="#111">8</text>
<line x1="65.50" y1="649.74" x2="68.50" y2="649.74" stroke="#777" stroke-width="1" />
<text transform="translate(81.00,654.84) scale(1.0,1)" font-size="14.6" text-anchor="start" fill="#111">4</text>
<line x1="65.50" y1="680.50" x2="68.50" y2="680.50" stroke="#777" stroke-width="1" />
<text transform="translate(81.00,685.60) scale(1.0,1)" font-size="14.6" text-anchor="start" fill="#111">0</text>
<text transform="translate(41.40,567.00) scale(1.045,1)" font-size="14.2" text-anchor="start" fill="#111">I (pA)</text>
<text transform="translate(1.80,643.70) scale(1.04,1)" font-size="14.4" text-anchor="start" fill="#111">+60 mV</text>
<polyline points="173.30,611.70 173.30,641.70 208.30,641.70" fill="none" stroke="#333" stroke-width="1.25"/>
<text transform="translate(140.00,635.00) scale(1.03,1)" font-size="14.4" text-anchor="start" fill="#111">4 pA</text>
<text transform="translate(166.70,657.70) scale(1.03,1)" font-size="14.4" text-anchor="start" fill="#111">300 ms</text>
<path d="M468.5 672.2L468.7 584.5M468.8 672.2L469.0 584.5M474.6 672.2L474.8 642.2M483.7 672.2L483.9 657.1M486.4 672.2L486.6 646.9M487.1 672.2L487.3 647.6M489.1 672.2L489.3 648.3M494.3 672.2L494.5 632.0M497.5 672.2L497.7 607.6M499.7 672.2L499.9 587.9M500.0 672.2L500.2 587.9M503.4 672.2L503.6 628.6M508.1 672.2L508.3 655.1M514.0 672.2L514.2 630.6M518.3 672.2L518.5 653.7M521.4 672.2L521.6 594.0M524.4 672.2L524.6 598.7M632.4 672.2L632.6 585.2M634.1 672.2L634.3 625.1M642.8 672.2L643.0 613.6M646.6 672.2L646.8 652.9" fill="none" stroke="#111" stroke-width="1.0"/>
<path d="M467.2 662.3l .3 24 .4-24.7 .3 20.1 .3-21.1 .4 21.8 .3-20.3 .3 21.2 .4-21.7 .3 23.9 .3-23.9 .3 20.4 .4-20 .3 19.8 .3-20.6 .4 21.2 .3-20.1 .3 19.4 .4-19.4 .3 20.6 .3-21.7 .4 22.8 .3-24.3 .3 23.7 .4-21.6 .3 24.5 .3-23.8 .3 20.3 .4-20.5 .3 20.1 .3-20 .4 19.6 .3-20.5 .3 21.3 .4-20.1 .3 19.3 .3-21.5 .4 22.4 .3-22.5 .3 23.2 .4-22.2 .3 21 .3-19.8 .3 20.9 .4-22 .3 20.4 .3-22.3 .4 22.5 .3-19.8 .3 20.4 .4-20.5 .3 20.2 .3-21.6 .4 21.3 .3-20 .3 21.4 .4-25.7 .3 24 .3-19.9 .3 20.5 .4-19.8 .3 20.2 .3-21 .4 22.6 .3-22 .3 22.6 .4-23.9 .3 21.5 .3-20.3 .4 22.4 .3-22.7 .3 24.7 .4-25.5 .3 23.3 .3-22 .3 21.1 .4-21.2 .3 20.9 .3-20.6 .4 19.6 .3-20.2 .3 21.3 .4-23 .3 22.5 .3-20.4 .4 19.3 .3-19.1 .3 19.7 .4-20.5 .3 20.6 .3-20.9 .3 25.1 .4-24.9 .3 24.9 .3-25.6 .4 21.3 .3-20.2 .3 19.6 .4-22.2 .3 23 .3-20.4 .4 20.6 .3-24.3 .3 23.6 .4-20.2 .3 20.7 .3-20.4 .3 21.4 .4-24.8 .3 23.4 .3-19.5 .4 19.2 .3-19.2 .3 19.4 .4-19.5 .3 20.2 .3-22.7 .4 22 .3-22.1 .3 23.7 .4-25.3 .3 24.7 .3-20.6 .3 21 .4-22.7 .3 21.9 .3-20.9 .4 21.2 .3-20.8 .3 19.6 .4-20.1 .3 20.2 .3-20.3 .4 20.8 .3-23 .3 27.3 .4-28.9 .3 24.3 .3-20.8 .3 25.4 .4-26.5 .3 21.6 .3-19.4 .4 20.7 .3-21.3 .3 20.1 .4-19.4 .3 20.8 .3-20.7 .4 23.9 .3-24.6 .3 21.6 .4-22.4 .3 21.9 .3-20.6 .3 24.3 .4-28.9 .3 26.6 .3-23.7 .4 25.2 .3-26.4 .3 24.5 .4-21.9 .3 22 .3-24.2 .4 22.1 .3-20.6 .3 20.9 .4-19.9 .3 19.7 .3-20 .3 20.1 .4-20.3 .3 20.7 .3-19.9 .4 19.7 .3-24.5 .3 24.2 .4-19.6 .3 20.5 .3-20.7 .4 24.4 .3-28.9 .3 24.1 .4-19.2 .3 21.5 .3-22.7 .3 20.5 .4-19.8 .3 19.8 .3-20.6 .4 21.8 .3-24.3 .3 24.1 .4-24.2 .3 23.1 .5-100.7 .3 21.8 .4-24.2 .3 23.5 .3-21.4 .4 20.7 .3-21.1 .3 22.6 .3-20.3 .4 19.6 .3-23.9 .3 23.8 .4-20.8 .3 24.9 .3-23.5 .4 18.5 .3-19.2 .3 20 .4-21.5 .3 21.1 .3-19.8 .3 21 .4-20.6 .3 24 .3-24 .4 19.1 .3-19.3 .3 21 .4-22.9 .3 22.4 .3-20.4 .4 20.6 .3-21.1 .3 20.6 .3-19.6 .4 21 .3-21 .3 21.7 .4-23.6 .3 23.7 .3-22.1 .4 21.5 .3-21.4 .3 19.5 .4-21.2 .3 21.1 .3-23 .3 26.1 .4-27 .3 24.2 .3-21.2 .4 21.8 .3-21.4 .3 21.7 .4-20.2 .3 21.5 .3-23.8 .4 22.3 .3-20.4 .3 19.2 .3-19.9 .4 20.1 .3-23.6 .3 27.5 .4-24 .3 20.1 .3-19.3 .4 20.9 .3-20.6 .3 19.4 .4-19.7 .3 19.5 .3-23.1 .3 22.9 .4-19.2 .3 20.4 .3-20.4 .4 19.7 .3-22.1 .3 21.4 .4-21.3 .3 20.9 .3-21 .4 23.2 .3-22.1 .3 24.9 .3-26.1 .4 21.7 .3-20.7 .3 21.4 .4-20.1 .3 19 .3-21.9 .4 23.5 .3-20.4 .3 20.8 .4-20.8 .3 20.8 .3-23.1 .3 21.1 .4-21.8 .3 21.7 .3-18.6 .4 18.6 .3-20.1 .3 20.8 .4-19.2 .3 18.8 .3-20.7 .4 21.4 .3-19.7 .3 19.1 .3-20.9 .4 21 .3-22 .3 22.4 .4-23.2 .3 23.1 .3-22.3 .4 21.8 .3-19.8 .3 19.7 .4-23.6 .3 24 .3-22.4 .3 21.9 .4-20.6 .3 22 .3-21.1 .4 20.4 .3-22.9 .3 25.9 .4-27.2 .3 27.1 .3-25.3 .4 26.5 .3-26.2 .3 21.9 .4-19.5 .3 19.7 .3-19.6 .3 20.7 .4-25.3 .3 24 .3-20.4 .4 24.1 .3-23.5 .3 19.2 .4-19.8 .3 24.7 .3-24 .4 19.3 .3-20 .3 20.5 .3-19.8 .4 19.9 .3-20.5 .3 19.7 .4-19.1 .3 22.3 .3-24 .4 21.9 .3-19.7 .3 20.2 .4-20.8 .3 21.7 .3-21.1 .3 20.1 .4-20.1 .3 18.6 .3-20 .4 20.8 .3-19.6 .3 21.2 .4-22.8 .3 22.8 .3-22.5 .4 21.2 .3-24.5 .3 24.4 .3-19.7 .4 19 .3-18.8 .3 21.4 .4-23.3 .3 20.7 .3-19.3 .4 19.5 .3-20.3 .3 24.7 .4-28.3 .3 26.4 .3-22.7 .3 21.8 .4-21 .3 20 .3-20.6 .4 21.6 .3-21.6 .3 19.8 .4-21 .3 21.5 .3-21 .4 21.2 .3-21.5 .3 21 .3-19.2 .4 20.6 .3-20.7 .3 18.9 .4-18.8 .3 19 .3-19.3 .4 23.1 .3-24.7 .3 21.7 .4-24.1 .3 22.9 .3-19 .3 19.8 .4-19.2 .3 19 .3-22.4 .4 22.2 .3-19.5 .3 19.4 .4-20 .3 20.2 .3-21.1 .4 21.2 .3-21.4 .3 21.8 .3-19.6 .4 20 .3-23.7 .3 22.4 .4-18.9 .3 21.5 .3-22.1 .4 19.7 .3-19.5 .3 19.5 .4-18.8 .3 18.7 .3-19.7 .3 21.9 .4-22.3 .3 20.1 .3-20.8 .4 24.6 .3-23.2 .3 19.8 .4-22.3 .3 22.9 .3-19.8 .4 20.8 .3-22 .3 24.6 .3-25.5 .4 21.3 .3-19.8 .3 19.3 .4-19.2 .3 20.1 .9 59.8 .3 19.5 .4-19.1 .3 20.8 .3-25.6 .4 28.6 .3-25.5 .3 22.2 .4-24.3 .3 24.3 .3-20.9 .4 23.4 .3-23 .3 24.1 .3-24.4 .4 22.8 .3-23.7 .3 21.1 .4-19.8 .3 19.1 .3-19.3 .4 22 .3-21.9 .3 20.1 .4-20.2 .3 21.6 .3-24.5 .4 22.6 .3-20.4 .3 21.2 .4-21.4 .3 25.1 .3-24 .4 19.6 .3-20.4 .3 23.6 .4-26 .3 24.2 .3-21.5 .4 19.8 .3-20.7 .3 20.7 .3-21.9 .4 26.6 .3-24.4 .3 21.3 .4-22.5 .3 21.7 .3-23.9 .4 24.4 .3-21.6 .3 21.3 .4-21.1 .3 20.6 .3-20.5 .4 20.5 .3-24.7 .3 23.9 .4-19.8 .3 21.1 .3-20.7 .4 22.5 .3-22.6 .3 20.1 .4-22.9 .3 22.7 .3-21.2 .3 21.8 .4-20.4 .3 22.4 .3-22.2 .4 24.2 .3-24.9 .3 20 .4-19.2 .3 20.7 .3-23.9 .4 23.7 .3-21.7 .3 20.7 .4-21.4 .3 21.4 .3-20.7 .4 21.2 .3-20.2 .3 19.9 .4-24.1 .3 24.9 .3-21.2 .4 21.3 .3-20.6 .3 20.3 .4-20.7 .3 23 .3-22.9 .3 19.9 .4-19.8 .3 20.2 .3-20.2 .4 19.5 .3-19.8 .3 21.7 .4-22.1 .3 22.2 .3-22 .4 20.2 .3-20.5" fill="none" stroke="#000" stroke-width="0.72" stroke-linejoin="bevel"/>
<line x1="357.00" y1="593.80" x2="660.00" y2="593.80" stroke="#ff8a1a" stroke-width="2" stroke-dasharray="17.6 6.04"/>
<line x1="357.00" y1="674.20" x2="660.00" y2="674.20" stroke="#ff8a1a" stroke-width="2" stroke-dasharray="17.6 6.04"/>
<path d="M420.00 580.50 L419.51 580.50 L419.31 581.00 L419.03 581.50 L418.66 582.00 L418.16 582.50 L417.52 583.00 L416.71 583.50 L415.68 584.00 L414.41 584.50 L412.86 585.00 L411.00 585.50 L408.81 586.00 L406.27 586.50 L403.39 587.00 L400.17 587.50 L396.65 588.00 L392.86 588.50 L388.89 589.00 L384.82 589.50 L380.75 590.00 L376.79 590.50 L373.08 591.00 L369.73 591.50 L366.87 592.00 L364.59 592.50 L363.00 593.00 L362.14 593.50 L362.06 594.00 L362.76 594.50 L364.22 595.00 L366.36 595.50 L369.12 596.00 L372.38 596.50 L376.03 597.00 L379.95 597.50 L384.00 598.00 L388.08 598.50 L392.08 599.00 L395.91 599.50 L399.49 600.00 L402.77 600.50 L405.72 601.00 L408.33 601.50 L410.59 602.00 L412.51 602.50 L414.12 603.00 L415.45 603.50 L416.52 604.00 L417.38 604.50 L418.05 605.00 L418.57 605.50 L418.96 606.00 L419.26 606.50 L419.48 607.00 L419.64 607.50 L419.75 608.00 L419.83 608.50 L419.89 609.00 L419.93 609.50 L419.95 610.00 L419.97 610.50 L419.98 611.00 L419.99 611.50 L419.99 612.00 L420.00 612.50 L420.00 613.00 L420.00 613.50 L420.00 614.00 L420.00 614.50 L420.00 615.00 L420.00 615.50 L420.00 616.00 L420.00 616.50 L420.00 617.00 L420.00 617.50 L420.00 618.00 L420.00 618.50 L420.00 619.00 L420.00 619.50 L420.00 620.00 L420.00 620.50 L420.00 621.00 L420.00 621.50 L420.00 622.00 L420.00 622.50 L420.00 623.00 L420.00 623.50 L420.00 624.00 L420.00 624.50 L420.00 625.00 L420.00 625.50 L420.00 626.00 L420.00 626.50 L420.00 627.00 L420.00 627.50 L420.00 628.00 L420.00 628.50 L420.00 629.00 L420.00 629.50 L420.00 630.00 L420.00 630.50 L420.00 631.00 L420.00 631.50 L420.00 632.00 L420.00 632.50 L420.00 633.00 L420.00 633.50 L420.00 634.00 L420.00 634.50 L420.00 635.00 L420.00 635.50 L420.00 636.00 L420.00 636.50 L420.00 637.00 L420.00 637.50 L420.00 638.00 L420.00 638.50 L420.00 639.00 L420.00 639.50 L420.00 640.00 L420.00 640.50 L420.00 641.00 L420.00 641.50 L420.00 642.00 L420.00 642.50 L420.00 643.00 L420.00 643.50 L420.00 644.00 L420.00 644.50 L420.00 645.00 L420.00 645.50 L420.00 646.00 L420.00 646.50 L420.00 647.00 L420.00 647.50 L420.00 648.00 L420.00 648.50 L420.00 649.00 L420.00 649.50 L420.00 650.00 L420.00 650.50 L420.00 651.00 L420.00 651.50 L420.00 652.00 L420.00 652.50 L420.00 653.00 L420.00 653.50 L420.00 654.00 L420.00 654.50 L420.00 655.00 L419.99 655.50 L419.99 656.00 L419.98 656.50 L419.97 657.00 L419.96 657.50 L419.93 658.00 L419.90 658.50 L419.85 659.00 L419.78 659.50 L419.68 660.00 L419.54 660.50 L419.35 661.00 L419.09 661.50 L418.74 662.00 L418.29 662.50 L417.70 663.00 L416.95 663.50 L416.00 664.00 L414.83 664.50 L413.40 665.00 L411.69 665.50 L409.66 666.00 L407.31 666.50 L404.61 667.00 L401.59 667.50 L398.25 668.00 L394.64 668.50 L390.80 669.00 L386.82 669.50 L382.78 670.00 L378.78 670.50 L374.94 671.00 L371.37 671.50 L368.20 672.00 L365.52 672.50 L363.44 673.00 L362.04 673.50 L361.36 674.00 L361.44 674.50 L362.26 675.00 L363.81 675.50 L366.01 676.00 L368.80 676.50 L372.06 677.00 L375.69 677.50 L379.57 678.00 L383.59 678.50 L387.62 679.00 L391.58 679.50 L395.38 680.00 L398.94 680.50 L402.22 681.00 L405.18 681.50 L407.80 682.00 L410.09 682.50 L412.06 683.00 L413.71 683.50 L415.09 684.00 L416.21 684.50 L417.11 685.00 L417.83 685.50 L418.39 686.00 L418.82 686.50 L419.15 687.00 L419.39 687.50 L419.57 688.00 L419.70 688.50 L419.79 689.00 L419.86 689.50 L419.91 690.00 L419.94 690.50 L419.96 691.00 L419.97 691.50 L419.98 692.00 L419.99 692.50 L419.99 693.00 L420.00 693.50 L420.00 694.00 L420.00 694.50 L420.00 695.00 L420.00 695.50 L420.00 695.50 Z" fill="#c3c3c3" stroke="none"/>
<line x1="420.00" y1="573.00" x2="420.00" y2="695.50" stroke="#5a5a5a" stroke-width="1.6" />
<path d="M419.51 580.50 L419.31 581.00 L419.03 581.50 L418.66 582.00 L418.16 582.50 L417.52 583.00 L416.71 583.50 L415.68 584.00 L414.41 584.50 L412.86 585.00 L411.00 585.50 L408.81 586.00 L406.27 586.50 L403.39 587.00 L400.17 587.50 L396.65 588.00 L392.86 588.50 L388.89 589.00 L384.82 589.50 L380.75 590.00 L376.79 590.50 L373.08 591.00 L369.73 591.50 L366.87 592.00 L364.59 592.50 L363.00 593.00 L362.14 593.50 L362.06 594.00 L362.76 594.50 L364.22 595.00 L366.36 595.50 L369.12 596.00 L372.38 596.50 L376.03 597.00 L379.95 597.50 L384.00 598.00 L388.08 598.50 L392.08 599.00 L395.91 599.50 L399.49 600.00 L402.77 600.50 L405.72 601.00 L408.33 601.50 L410.59 602.00 L412.51 602.50 L414.12 603.00 L415.45 603.50 L416.52 604.00 L417.38 604.50 L418.05 605.00 L418.57 605.50 L418.96 606.00 L419.26 606.50 L419.48 607.00 L419.64 607.50 L419.75 608.00 L419.83 608.50 L419.89 609.00 L419.93 609.50 L419.95 610.00 L419.97 610.50 L419.98 611.00 L419.99 611.50 L419.99 612.00 L420.00 612.50 L420.00 613.00 L420.00 613.50 L420.00 614.00 L420.00 614.50 L420.00 615.00 L420.00 615.50 L420.00 616.00 L420.00 616.50 L420.00 617.00 L420.00 617.50 L420.00 618.00 L420.00 618.50 L420.00 619.00 L420.00 619.50 L420.00 620.00 L420.00 620.50 L420.00 621.00 L420.00 621.50 L420.00 622.00 L420.00 622.50 L420.00 623.00 L420.00 623.50 L420.00 624.00 L420.00 624.50 L420.00 625.00 L420.00 625.50 L420.00 626.00 L420.00 626.50 L420.00 627.00 L420.00 627.50 L420.00 628.00 L420.00 628.50 L420.00 629.00 L420.00 629.50 L420.00 630.00 L420.00 630.50 L420.00 631.00 L420.00 631.50 L420.00 632.00 L420.00 632.50 L420.00 633.00 L420.00 633.50 L420.00 634.00 L420.00 634.50 L420.00 635.00 L420.00 635.50 L420.00 636.00 L420.00 636.50 L420.00 637.00 L420.00 637.50 L420.00 638.00 L420.00 638.50 L420.00 639.00 L420.00 639.50 L420.00 640.00 L420.00 640.50 L420.00 641.00 L420.00 641.50 L420.00 642.00 L420.00 642.50 L420.00 643.00 L420.00 643.50 L420.00 644.00 L420.00 644.50 L420.00 645.00 L420.00 645.50 L420.00 646.00 L420.00 646.50 L420.00 647.00 L420.00 647.50 L420.00 648.00 L420.00 648.50 L420.00 649.00 L420.00 649.50 L420.00 650.00 L420.00 650.50 L420.00 651.00 L420.00 651.50 L420.00 652.00 L420.00 652.50 L420.00 653.00 L420.00 653.50 L420.00 654.00 L420.00 654.50 L420.00 655.00 L419.99 655.50 L419.99 656.00 L419.98 656.50 L419.97 657.00 L419.96 657.50 L419.93 658.00 L419.90 658.50 L419.85 659.00 L419.78 659.50 L419.68 660.00 L419.54 660.50 L419.35 661.00 L419.09 661.50 L418.74 662.00 L418.29 662.50 L417.70 663.00 L416.95 663.50 L416.00 664.00 L414.83 664.50 L413.40 665.00 L411.69 665.50 L409.66 666.00 L407.31 666.50 L404.61 667.00 L401.59 667.50 L398.25 668.00 L394.64 668.50 L390.80 669.00 L386.82 669.50 L382.78 670.00 L378.78 670.50 L374.94 671.00 L371.37 671.50 L368.20 672.00 L365.52 672.50 L363.44 673.00 L362.04 673.50 L361.36 674.00 L361.44 674.50 L362.26 675.00 L363.81 675.50 L366.01 676.00 L368.80 676.50 L372.06 677.00 L375.69 677.50 L379.57 678.00 L383.59 678.50 L387.62 679.00 L391.58 679.50 L395.38 680.00 L398.94 680.50 L402.22 681.00 L405.18 681.50 L407.80 682.00 L410.09 682.50 L412.06 683.00 L413.71 683.50 L415.09 684.00 L416.21 684.50 L417.11 685.00 L417.83 685.50 L418.39 686.00 L418.82 686.50 L419.15 687.00 L419.39 687.50 L419.57 688.00 L419.70 688.50 L419.79 689.00 L419.86 689.50 L419.91 690.00 L419.94 690.50 L419.96 691.00 L419.97 691.50 L419.98 692.00 L419.99 692.50 L419.99 693.00 L420.00 693.50 L420.00 694.00 L420.00 694.50 L420.00 695.00 L420.00 695.50" fill="none" stroke="#1a1ae6" stroke-width="1.25"/>
<line x1="420.00" y1="593.80" x2="423.00" y2="593.80" stroke="#777" stroke-width="1" />
<text transform="translate(434.90,598.90) scale(1.0,1)" font-size="14.6" text-anchor="start" fill="#111">0</text>
<line x1="420.00" y1="621.04" x2="423.00" y2="621.04" stroke="#777" stroke-width="1" />
<text transform="translate(434.90,626.14) scale(1.0,1)" font-size="14.6" text-anchor="end" fill="#111">-</text>
<text transform="translate(434.90,626.14) scale(1.0,1)" font-size="14.6" text-anchor="start" fill="#111">4</text>
<line x1="420.00" y1="648.28" x2="423.00" y2="648.28" stroke="#777" stroke-width="1" />
<text transform="translate(434.90,653.38) scale(1.0,1)" font-size="14.6" text-anchor="end" fill="#111">-</text>
<text transform="translate(434.90,653.38) scale(1.0,1)" font-size="14.6" text-anchor="start" fill="#111">8</text>
<line x1="420.00" y1="675.52" x2="423.00" y2="675.52" stroke="#777" stroke-width="1" />
<text transform="translate(434.90,680.62) scale(1.0,1)" font-size="14.6" text-anchor="end" fill="#111">-</text>
<text transform="translate(434.90,680.62) scale(1.0,1)" font-size="14.6" text-anchor="start" fill="#111">12</text>
<text transform="translate(396.20,568.90) scale(1.045,1)" font-size="14.2" text-anchor="start" fill="#111">I (pA)</text>
<text transform="translate(360.00,640.20) scale(1.04,1)" font-size="14.4" text-anchor="start" fill="#111">-60 mV</text>
<polyline points="576.80,620.00 576.80,647.30 596.40,647.30" fill="none" stroke="#333" stroke-width="1.25"/>
<text transform="translate(541.30,638.60) scale(1.03,1)" font-size="14.4" text-anchor="start" fill="#111">4 pA</text>
<text transform="translate(563.00,660.90) scale(1.03,1)" font-size="14.4" text-anchor="start" fill="#111">500 ms</text>
<path d="M216.0 787.3L216.2 855.0M228.0 787.3L228.2 760.0M257.0 787.3L257.2 809.7M265.6 787.3L265.8 841.4M276.8 787.3L277.0 855.7M287.7 787.3L287.9 821.6" fill="none" stroke="#111" stroke-width="1.0"/>
<path d="M97.5 849.6l .3 14.6 .4-14.6 .3 15.8 .3-15.2 .4 14.7 .3-16.1 .3 18.2 .3-16.4 .4 13.8 .3-15.7 .3 15.8 .4-14.6 .3 18 .3-20.2 .4 18.9 .3-15.9 .3 13.9 .3-18.3 .4 19 .3-23.1 .3 22.7 .4-22.7 .3 26.5 .3-20.7 .4 21.5 .3-19 .3 17.6 .3-20 .4 16.6 .3-14.1 .3 13.3 .4-14.2 .3 15.6 .3-15.2 .4 16.3 .3-17.5 .3 20.3 .3-18.9 .4 15.4 .3-17 .3 20.9 .4-18.9 .3 13.1 .3-13.4 .4 17.4 .3-17.9 .3 16.9 .3-19 .4 17.4 .3-17.2 .3 16.2 .4-14.7 .3 15.6 .3-16.4 .4 19.3 .3-18.2 .3 19.2 .4-22 .3 20.8 .3-17.3 .3 13.6 .4-14.3 .3 16 .3-18.2 .4 20.3 .3-18.1 .3 17.7 .4-17.9 .3 14.6 .3-15 .3 15.7 .4-16 .3 20.5 .3-21.7 .4 21.2 .3-20.2 .3 15.9 .4-18 .3 17.4 .3-21.8 .3 25.9 .4-19.4 .3 16.5 .3-14.6 .4 13.5 .3-16.2 .3 20.2 .4-24.2 .3 19.9 .3-16.9 .3 18.9 .4-15.4 .3 19.4 .3-20.3 .4 15.1 .3-17.8 .3 17.9 .4-15.6 .3 15.9 .3-17.2 .3 18.2 .4-17.2 .3 15 .3-16.3 .4 21.2 .3-19 .3 18.6 .4-26.1 .3 21.7 .3-13.3 .4 14.2 .3-15.5 .3 20.7 .3-21.3 .4 16.1 .3-15.1 .3 22.2 .4-25.6 .3 17.8 .3-13.7 .4 22 .3-29.9 .3 22 .3-14.5 .4 15.8 .3-17.9 .3 18.3 .4-18.9 .3 19.8 .3-17.9 .4 14.7 .3-15.6 .3 20.6 .3-23.1 .4 19.7 .3-15.5 .3 22.4 .4-21.6 .3 14.1 .3-14.4 .4 14.4 .3-15.1 .3 14.5 .3-15.8 .4 15.5 .3-16.6 .3 23.6 .4-21.4 .3 16.2 .3-15.8 .4 21.4 .3-22.7 .3 17.3 .3-22.8 .4 21.4 .3-13.8 .3 20.5 .4-21.7 .3 14.9 .3-16.4 .4 22.3 .3-22.7 .3 16.5 .4-22 .3 23.2 .3-23.2 .3 23.6 .4-16.9 .3 18.3 .3-21.2 .4 19.9 .3-15.7 .3 13.7 .4-15.3 .3 21.8 .3-20.1 .3 15.8 .4-15.3 .3 16.2 .3-17 .4 18.9 .3-18.6 .3 17.1 .4-17.8 .3 15.7 .3-16.8 .3 15.9 .4-16.7 .3 16.8 .3-22.3 .4 22.6 .3-14.5 .3 16.6 .4-20.2 .3 17.4 .3-14.9 .3 14.9 .4-16.2 .3 16.3 .3-17.1 .4 18.4 .3-17.1 .3 15.9 .4-15.6 .3 23.7 .3-22.6 .3 16.6 .4-16.3 .3 22.3 .3-28.9 .4 23 .3-16.3 .3 22.2 .4-22.6 .3 17.6 .3-23.5 .4 19.9 .3-13.1 .3 13.2 .3-15.7 .4 20.6 .3-26.4 .3 23.9 .4-16.3 .3 13.8 .3-14 .4 15.8 .3-15.7 .3 18.2 .3-21.2 .4 18.8 .3-16.4 .3 21 .4-23 .3 16.9 .3-18 .4 20.2 .3-16.4 .3 15.8 .3-16.1 .4 14.3 .3-19.3 .3 19.1 .4-13.3 .3 17.6 .3-21.4 .4 17.1 .3-17.8 .3 19.7 .3-20 .4 19.1 .3-22.6 .3 25.4 .4-19.1 .3 19.2 .3-25.5 .4 25.2 .3-17.6 .3 22.6 .3-23.1 .4 23.1 .3-24.7 .3 19.9 .4-18.2 .3 17.6 .3-17.2 .4 17.5 .3-17.9 .3 14.6 .4-14.2 .3 14.1 .3-16.5 .3 17 .4-18.1 .3 18.2 .3-15 .4 14.7 .3-16 .3 16.1 .4-15.4 .3 15.8 .3-15.6 .3 16.9 .4-17.5 .3 16.5 .3-22.8 .4 22 .3-14.1 .3 14.1 .4-15.2 .3 15.6 .3-14.4 .3 14.4 .4-14.8 .3 15.2 .3-14.3 .4 16.6 .3-16.5 .3 19 .4-19.6 .3 19.4 .3-20.6 .3 15.1 .4-15.8 .3 18.1 .3-16.8 .4 14.2 .3-18.2 .3 18.4 .4-13.7 .3 14.1 .3-18 .3 18.6 .4-15 .3 16.7 .3-17.2 .4 18.4 .3-17.5 .1-74.3 .3 21.6 .4-22.5 .3 22.6 .3-19.7 .4 17.9 .3-22.9 .3 22.9 .3-19.5 .4 19.4 .3-19.3 .3 19.4 .4-17.9 .3 19.7 .3-26.6 .4 26 .3-23.2 .3 25.6 .3-24.1 .4 28.6 .3-29 .3 22.9 .4-19.9 .3 18.3 .3-19.3 .4 21.9 .3-28.8 .3 29.8 .3-24.1 .4 27.2 .3-25.5 .3 19.9 .4-19.7 .3 19.7 .3-19.2 .4 18.6 .3-20.1 .3 19.4 .3-19.5 .4 20 .3-18.9 .3 19.8 .4-18.8 .3 17.6 .3-18.9 .4 26.9 .3-27.8 .3 21.9 .3-24.3 .4 21.7 .3-19.1 .3 19.2 .4-18.4 .3 19.1 .3-19.1 .4 24 .3-23.6 .3 26.4 .3-26.2 .4 17.8 .3-21.2 .3 25.1 .4-26.8 .3 27.1 .3-27.2 .4 23.6 .3-19.6 .3 19.3 .4-19.7 .3 19.6 .3-19 .3 19.4 .4-21.1 .3 22.7 .3-27.4 .4 25.1 .3-17.6 .3 17.9 .4-19.7 .3 21 .3-22 .3 21.3 .4-25.3 .3 32.9 .3-26.9 .4 19.1 .3-23.9 .3 24.9 .4-24.5 .3 23 .3-19.2 .3 19.4 .4-26.1 .3 28.1 .3-23.1 .4 27.3 .3-29.2 .3 22.6 .4-17.3 .3 25.8 .3-28.9 .3 22.2 .4-19.2 .3 18.8 .3-23.1 .4 21.9 .3-17.4 .3 19.7 .4-28.2 .3 25.9 .3-21 .3 29.3 .4-25.9 .3 17.7 .3-19.9 .4 19.5 .3-25.6 .3 26.4 .4-18.1 .3 23.2 .3-25.3 .3 21.8 .4-23.2 .3 21.1 .3-20.1 .4 20.1 .3-21.4 .3 22.2 .4-20.4 .3 21.5 .3-20.4 .4 20.4 .3-21.8 .3 21.9 .3-21 .4 18.8 .3-18.1 .3 22.5 .4-24.1 .3 20.4 .3-19.8 .4 22.8 .3-21.9 .3 22.8 .3-28.9 .4 24.4 .3-17.3 .3 20.1 .4-21.5 .3 19 .3-21.5 .4 23.3 .3-19.9 .3 17.7 .3-19.3 .4 21.3 .3-20.7 .3 19.5 .4-25.1 .3 24.2 .3-17.6 .4 19.5 .3-25.7 .3 24 .3-20.3 .4 22.8 .3-19.8 .3 21.8 .4-21.8 .3 23.2 .3-23.6 .4 24.2 .3-26.4 .3 19.9 .3-21.5 .4 21.7 .3-20.6 .3 20.4 .4-25.2 .3 30.4 .3-24.6 .4 20.2 .3-19.6 .3 21.4 .3-25.9 .4 23.3 .3-19.2 .3 20.8 .4-22 .3 28.8 .3-31.6 .4 24 .3-21.2 .3 21 .4-21.1 .3 20.7 .3-20.2 .3 20.6 .4-18.6 .3 18.7 .3-19.6 .4 22.6 .3-24.1 .3 21.9 .4-20.6 .3 22 .3-21.1 .3 20.2 .4-22.4 .3 21.5 .3-18.4 .4 17.2 .3-23.3 .3 23.6 .4-18.3 .3 20.6 .3-23.2 .3 25.2 .4-25.4 .3 21.5 .3-19 .4 23.6 .3-24.1 .3 24.2 .4-23.7 .3 20.2 .3-19.8 .3 20.7 .4-27.1 .3 32.8 .3-27.5 .4 20.1 .3-20 .3 22.5 .4-21.5 .3 17.9 .3-22.1 .3 29.8 .4-26.1 .3 20.7 .3-24.7 .4 23.3 .3-21.9 .3 23.7 .4-20 .3 18.4 .3-26.8 .3 28.2 .4-21.7 .3 19.5 .3-26 .4 29.7 .3-24.4 .3 24.8 .4-24.1 .3 20.1 .3-18.5 .4 22 .3-29.6 .3 25.8 .3-17.4 .4 18.4 .3-23.2 .3 24.6 .4-21.2 .3 19.4 .3-19.5 .4 19.1 .3-21.6 .3 21.4 .3-17.6 .4 17.5 .3-17.5 .3 18.8 .4-19.9 .3 19.8 .3-19.2 .4 18.4 .3-19.6 .3 22.4 .3-23.2 .4 26.7 .3-25.3 .3 20.5 .4-21.9 .3 23.1 .3-21.8 .4 21.9 .3-21.8 .3 18.8 .3-17.8 .4 20.3 .3-26 .3 23.9 .4-18.1 .3 19.6 .3-23.5 .4 22.8 .3-21.3 .3 20 .3-24.8 .4 27.2 .3-23.5 .3 22.1 .4-20.1 .3 19.5 .3-20.6 .4 28.1 .3-30.5 .3 27.1 .3-22.1 .4 22.8 .3-24.9 .3 20.9 .4-20.5 .3 19.4" fill="none" stroke="#000" stroke-width="0.72" stroke-linejoin="bevel"/>
<line x1="2.30" y1="788.20" x2="303.00" y2="788.20" stroke="#ff8a1a" stroke-width="2" stroke-dasharray="17.6 6.04"/>
<line x1="2.30" y1="859.50" x2="303.00" y2="859.50" stroke="#ff8a1a" stroke-width="2" stroke-dasharray="17.6 6.04"/>
<path d="M65.50 760.00 L65.50 760.00 L65.50 760.50 L65.50 761.00 L65.50 761.50 L65.50 762.00 L65.49 762.50 L65.49 763.00 L65.49 763.50 L65.48 764.00 L65.48 764.50 L65.47 765.00 L65.46 765.50 L65.44 766.00 L65.42 766.50 L65.39 767.00 L65.36 767.50 L65.31 768.00 L65.25 768.50 L65.17 769.00 L65.07 769.50 L64.94 770.00 L64.78 770.50 L64.59 771.00 L64.35 771.50 L64.05 772.00 L63.69 772.50 L63.26 773.00 L62.74 773.50 L62.13 774.00 L61.41 774.50 L60.56 775.00 L59.59 775.50 L58.48 776.00 L57.21 776.50 L55.78 777.00 L54.18 777.50 L52.42 778.00 L50.48 778.50 L48.37 779.00 L46.10 779.50 L43.69 780.00 L41.14 780.50 L38.49 781.00 L35.75 781.50 L32.96 782.00 L30.16 782.50 L27.38 783.00 L24.66 783.50 L22.06 784.00 L19.61 784.50 L17.36 785.00 L15.34 785.50 L13.61 786.00 L12.18 786.50 L11.10 787.00 L10.38 787.50 L10.03 788.00 L10.07 788.50 L10.49 789.00 L11.29 789.50 L12.44 790.00 L13.93 790.50 L15.73 791.00 L17.79 791.50 L20.09 792.00 L22.57 792.50 L25.20 793.00 L27.93 793.50 L30.72 794.00 L33.52 794.50 L36.30 795.00 L39.02 795.50 L41.66 796.00 L44.18 796.50 L46.57 797.00 L48.80 797.50 L50.88 798.00 L52.78 798.50 L54.52 799.00 L56.08 799.50 L57.48 800.00 L58.71 800.50 L59.80 801.00 L60.74 801.50 L61.56 802.00 L62.26 802.50 L62.85 803.00 L63.35 803.50 L63.77 804.00 L64.11 804.50 L64.40 805.00 L64.63 805.50 L64.82 806.00 L64.97 806.50 L65.09 807.00 L65.19 807.50 L65.26 808.00 L65.32 808.50 L65.36 809.00 L65.40 809.50 L65.42 810.00 L65.44 810.50 L65.46 811.00 L65.47 811.50 L65.48 812.00 L65.48 812.50 L65.49 813.00 L65.49 813.50 L65.49 814.00 L65.50 814.50 L65.50 815.00 L65.50 815.50 L65.50 816.00 L65.50 816.50 L65.50 817.00 L65.50 817.50 L65.50 818.00 L65.50 818.50 L65.50 819.00 L65.50 819.50 L65.50 820.00 L65.50 820.50 L65.50 821.00 L65.50 821.50 L65.50 822.00 L65.50 822.50 L65.50 823.00 L65.50 823.50 L65.50 824.00 L65.50 824.50 L65.50 825.00 L65.50 825.50 L65.50 826.00 L65.50 826.50 L65.50 827.00 L65.50 827.50 L65.50 828.00 L65.50 828.50 L65.50 829.00 L65.50 829.50 L65.50 830.00 L65.50 830.50 L65.50 831.00 L65.50 831.50 L65.50 832.00 L65.50 832.50 L65.50 833.00 L65.50 833.50 L65.50 834.00 L65.50 834.50 L65.50 835.00 L65.50 835.50 L65.49 836.00 L65.49 836.50 L65.49 837.00 L65.48 837.50 L65.47 838.00 L65.46 838.50 L65.44 839.00 L65.42 839.50 L65.39 840.00 L65.34 840.50 L65.29 841.00 L65.21 841.50 L65.11 842.00 L64.98 842.50 L64.82 843.00 L64.61 843.50 L64.34 844.00 L64.01 844.50 L63.60 845.00 L63.09 845.50 L62.48 846.00 L61.74 846.50 L60.85 847.00 L59.81 847.50 L58.59 848.00 L57.18 848.50 L55.56 849.00 L53.72 849.50 L51.66 850.00 L49.38 850.50 L46.87 851.00 L44.15 851.50 L41.23 852.00 L38.14 852.50 L34.91 853.00 L31.58 853.50 L28.20 854.00 L24.82 854.50 L21.49 855.00 L18.29 855.50 L15.27 856.00 L12.50 856.50 L10.04 857.00 L7.93 857.50 L6.25 858.00 L5.01 858.50 L4.25 859.00 L4.00 859.50 L4.25 860.00 L5.01 860.50 L6.25 861.00 L7.93 861.50 L10.04 862.00 L12.50 862.50 L15.27 863.00 L18.29 863.50 L21.49 864.00 L24.82 864.50 L28.20 865.00 L31.58 865.50 L34.91 866.00 L38.14 866.50 L41.23 867.00 L44.15 867.50 L46.87 868.00 L49.38 868.50 L51.66 869.00 L53.72 869.50 L55.56 870.00 L57.18 870.50 L58.59 871.00 L59.81 871.50 L60.85 872.00 L61.74 872.50 L62.48 873.00 L63.09 873.50 L63.60 874.00 L64.01 874.50 L64.34 875.00 L64.61 875.50 L64.82 876.00 L64.98 876.50 L65.11 877.00 L65.21 877.50 L65.29 878.00 L65.34 878.50 L65.39 879.00 L65.42 879.50 L65.44 880.00 L65.46 880.50 L65.47 881.00 L65.48 881.50 L65.49 882.00 L65.49 882.50 L65.49 883.00 L65.50 883.50 L65.50 884.00 L65.50 884.00 Z" fill="#c3c3c3" stroke="none"/>
<line x1="65.50" y1="760.00" x2="65.50" y2="884.00" stroke="#5a5a5a" stroke-width="1.6" />
<path d="M65.50 760.00 L65.50 760.50 L65.50 761.00 L65.50 761.50 L65.50 762.00 L65.49 762.50 L65.49 763.00 L65.49 763.50 L65.48 764.00 L65.48 764.50 L65.47 765.00 L65.46 765.50 L65.44 766.00 L65.42 766.50 L65.39 767.00 L65.36 767.50 L65.31 768.00 L65.25 768.50 L65.17 769.00 L65.07 769.50 L64.94 770.00 L64.78 770.50 L64.59 771.00 L64.35 771.50 L64.05 772.00 L63.69 772.50 L63.26 773.00 L62.74 773.50 L62.13 774.00 L61.41 774.50 L60.56 775.00 L59.59 775.50 L58.48 776.00 L57.21 776.50 L55.78 777.00 L54.18 777.50 L52.42 778.00 L50.48 778.50 L48.37 779.00 L46.10 779.50 L43.69 780.00 L41.14 780.50 L38.49 781.00 L35.75 781.50 L32.96 782.00 L30.16 782.50 L27.38 783.00 L24.66 783.50 L22.06 784.00 L19.61 784.50 L17.36 785.00 L15.34 785.50 L13.61 786.00 L12.18 786.50 L11.10 787.00 L10.38 787.50 L10.03 788.00 L10.07 788.50 L10.49 789.00 L11.29 789.50 L12.44 790.00 L13.93 790.50 L15.73 791.00 L17.79 791.50 L20.09 792.00 L22.57 792.50 L25.20 793.00 L27.93 793.50 L30.72 794.00 L33.52 794.50 L36.30 795.00 L39.02 795.50 L41.66 796.00 L44.18 796.50 L46.57 797.00 L48.80 797.50 L50.88 798.00 L52.78 798.50 L54.52 799.00 L56.08 799.50 L57.48 800.00 L58.71 800.50 L59.80 801.00 L60.74 801.50 L61.56 802.00 L62.26 802.50 L62.85 803.00 L63.35 803.50 L63.77 804.00 L64.11 804.50 L64.40 805.00 L64.63 805.50 L64.82 806.00 L64.97 806.50 L65.09 807.00 L65.19 807.50 L65.26 808.00 L65.32 808.50 L65.36 809.00 L65.40 809.50 L65.42 810.00 L65.44 810.50 L65.46 811.00 L65.47 811.50 L65.48 812.00 L65.48 812.50 L65.49 813.00 L65.49 813.50 L65.49 814.00 L65.50 814.50 L65.50 815.00 L65.50 815.50 L65.50 816.00 L65.50 816.50 L65.50 817.00 L65.50 817.50 L65.50 818.00 L65.50 818.50 L65.50 819.00 L65.50 819.50 L65.50 820.00 L65.50 820.50 L65.50 821.00 L65.50 821.50 L65.50 822.00 L65.50 822.50 L65.50 823.00 L65.50 823.50 L65.50 824.00 L65.50 824.50 L65.50 825.00 L65.50 825.50 L65.50 826.00 L65.50 826.50 L65.50 827.00 L65.50 827.50 L65.50 828.00 L65.50 828.50 L65.50 829.00 L65.50 829.50 L65.50 830.00 L65.50 830.50 L65.50 831.00 L65.50 831.50 L65.50 832.00 L65.50 832.50 L65.50 833.00 L65.50 833.50 L65.50 834.00 L65.50 834.50 L65.50 835.00 L65.50 835.50 L65.49 836.00 L65.49 836.50 L65.49 837.00 L65.48 837.50 L65.47 838.00 L65.46 838.50 L65.44 839.00 L65.42 839.50 L65.39 840.00 L65.34 840.50 L65.29 841.00 L65.21 841.50 L65.11 842.00 L64.98 842.50 L64.82 843.00 L64.61 843.50 L64.34 844.00 L64.01 844.50 L63.60 845.00 L63.09 845.50 L62.48 846.00 L61.74 846.50 L60.85 847.00 L59.81 847.50 L58.59 848.00 L57.18 848.50 L55.56 849.00 L53.72 849.50 L51.66 850.00 L49.38 850.50 L46.87 851.00 L44.15 851.50 L41.23 852.00 L38.14 852.50 L34.91 853.00 L31.58 853.50 L28.20 854.00 L24.82 854.50 L21.49 855.00 L18.29 855.50 L15.27 856.00 L12.50 856.50 L10.04 857.00 L7.93 857.50 L6.25 858.00 L5.01 858.50 L4.25 859.00 L4.00 859.50 L4.25 860.00 L5.01 860.50 L6.25 861.00 L7.93 861.50 L10.04 862.00 L12.50 862.50 L15.27 863.00 L18.29 863.50 L21.49 864.00 L24.82 864.50 L28.20 865.00 L31.58 865.50 L34.91 866.00 L38.14 866.50 L41.23 867.00 L44.15 867.50 L46.87 868.00 L49.38 868.50 L51.66 869.00 L53.72 869.50 L55.56 870.00 L57.18 870.50 L58.59 871.00 L59.81 871.50 L60.85 872.00 L61.74 872.50 L62.48 873.00 L63.09 873.50 L63.60 874.00 L64.01 874.50 L64.34 875.00 L64.61 875.50 L64.82 876.00 L64.98 876.50 L65.11 877.00 L65.21 877.50 L65.29 878.00 L65.34 878.50 L65.39 879.00 L65.42 879.50 L65.44 880.00 L65.46 880.50 L65.47 881.00 L65.48 881.50 L65.49 882.00 L65.49 882.50 L65.49 883.00 L65.50 883.50 L65.50 884.00" fill="none" stroke="#1a1ae6" stroke-width="1.25"/>
<line x1="65.50" y1="779.50" x2="68.50" y2="779.50" stroke="#777" stroke-width="1" />
<text transform="translate(81.00,784.60) scale(1.0,1)" font-size="14.6" text-anchor="start" fill="#111">8</text>
<line x1="65.50" y1="819.50" x2="68.50" y2="819.50" stroke="#777" stroke-width="1" />
<text transform="translate(81.00,824.60) scale(1.0,1)" font-size="14.6" text-anchor="start" fill="#111">4</text>
<line x1="65.50" y1="859.50" x2="68.50" y2="859.50" stroke="#777" stroke-width="1" />
<text transform="translate(81.00,864.60) scale(1.0,1)" font-size="14.6" text-anchor="start" fill="#111">0</text>
<text transform="translate(38.20,756.00) scale(1.045,1)" font-size="14.2" text-anchor="start" fill="#111">I (pA)</text>
<text transform="translate(-0.20,827.40) scale(1.04,1)" font-size="14.4" text-anchor="start" fill="#111">+40 mV</text>
<polyline points="136.20,804.10 136.20,823.80 160.50,823.80" fill="none" stroke="#333" stroke-width="1.25"/>
<text transform="translate(101.60,818.50) scale(1.03,1)" font-size="14.4" text-anchor="start" fill="#111">2 pA</text>
<text transform="translate(131.20,839.60) scale(1.03,1)" font-size="14.4" text-anchor="start" fill="#111">500 ms</text>
<path d="M468.4 866.8L468.6 777.7M471.9 866.8L472.1 825.7M472.2 866.8L472.4 827.8M474.4 866.8L474.6 769.2M476.1 866.8L476.3 844.7M479.7 866.8L479.9 774.1M480.4 866.8L480.6 786.1M481.1 866.8L481.3 786.1M481.8 866.8L482.0 786.1M482.5 866.8L482.7 786.8M485.3 866.8L485.5 791.8M488.1 866.8L488.3 793.9M488.8 866.8L489.0 829.2M489.1 866.8L489.3 833.4M490.2 866.8L490.4 775.5M494.5 866.8L494.7 776.9M497.3 866.8L497.5 849.0M502.3 866.8L502.5 851.8M506.5 866.8L506.7 829.9M510.0 866.8L510.2 774.1M511.4 866.8L511.6 785.4M598.9 866.8L599.1 771.0M605.9 866.8L606.1 769.9M609.6 866.8L609.8 770.0M612.4 866.8L612.6 782.6M618.4 866.8L618.6 772.7M623.3 866.8L623.5 801.0M623.8 866.8L624.0 801.0M624.7 866.8L624.9 816.5M627.5 866.8L627.7 775.5M631.1 866.8L631.3 839.0M638.1 866.8L638.3 770.6M641.0 866.8L641.2 777.7M649.2 866.8L649.4 770.0" fill="none" stroke="#111" stroke-width="1.0"/>
<path d="M467.5 858.1l .3 16.7 .4-16 .3 15.8 .3-16.4 .4 16.2 .3-16.1 .3 16.3 .4-15.8 .3 15.9 .3-15.4 .3 16.7 .4-16.9 .3 19.2 .3-20.1 .4 17.1 .3-19 .3 18.6 .4-15.9 .3 17.9 .3-18.9 .4 16.6 .3-17.2 .3 18.1 .4-16.2 .3 16.5 .3-21.1 .4 20.6 .3-20.4 .3 22.1 .3-20.2 .4 17.8 .3-15.4 .3 15.4 .4-15.6 .3 16.6 .3-20.5 .4 20.8 .3-19.7 .3 20.1 .4-17.4 .3 20 .3-20.2 .4 17.2 .3-18.9 .3 18 .4-17.2 .3 19.4 .3-17.9 .3 15.1 .4-15.2 .3 15.5 .3-17.4 .4 17.7 .3-16.8 .3 17.1 .4-16.9 .3 17.5 .3-18.3 .4 18.7 .3-17.6 .3 15.7 .4-18.1 .3 18.3 .3-17.6 .4 20 .3-18.3 .3 17.4 .3-17.3 .4 16.2 .3-16.1 .3 17.1 .4-18.2 .3 16.5 .3-15.5 .4 20 .3-19.6 .3 15.3 .4-16.2 .3 16.4 .3-15.7 .4 18.6 .3-18.7 .3 15.6 .4-16.7 .3 17.6 .3-18 .3 20.3 .4-18.7 .3 17 .3-16.8 .4 15.6 .3-18.4 .3 19.8 .4-17.4 .3 16.2 .3-16.8 .4 16.4 .3-15.5 .3 17.8 .4-18.2 .3 15.7 .3-15.4 .4 17.3 .3-19 .3 17.2 .3-15.3 .4 15.7 .3-16.6 .3 18.6 .4-21.1 .3 19.7 .3-16.5 .4 15.6 .3-16.6 .3 18.3 .4-19.5 .3 20.1 .3-19 .4 18.1 .3-18.5 .3 17 .4-17.2 .3 18.4 .3-18.2 .3 17.7 .4-17.8 .3 17.9 .3-17.2 .4 16.5 .3-18.5 .3 21.2 .4-18.4 .3 15.4 .5-108.3 .3 18.4 .4-18.6 .3 21 .3-19.5 .4 19.1 .3-20.7 .3 20.7 .3-21.5 .4 20.8 .3-19.2 .3 19.2 .4-22.8 .3 22.4 .3-18.6 .4 17.7 .3-17.4 .3 19 .3-20.2 .4 18.8 .3-17.2 .3 20.6 .4-21.5 .3 17.3 .3-16.4 .4 18.2 .3-18.6 .3 17.1 .3-20.9 .4 21.8 .3-17.6 .3 16.2 .4-16.6 .3 18 .3-19.3 .4 18.7 .3-19.5 .3 19.7 .4-17.8 .3 17.2 .3-17.8 .3 17.6 .4-16.4 .3 16.8 .3-19.9 .4 21 .3-18.4 .3 21.1 .4-21.3 .3 17.1 .3-16.9 .3 17 .4-19.5 .3 19.3 .3-18.1 .4 20.5 .3-20 .3 19.4 .4-18.2 .3 16.5 .3-17.1 .4 17.8 .3-20.2 .3 19.5 .3-16.6 .4 19.7 .3-20.1 .3 19.4 .4-23.4 .3 20.7 .3-17.1 .4 17.4 .3-18 .3 17.8 .3-16.3 .4 16.3 .3-19.2 .3 21.3 .4-19.8 .3 19.9 .3-18.5 .4 16.5 .3-18.4 .3 18.1 .3-16.3 .4 17.8 .3-18.5 .3 19.8 .4-20.5 .3 17.7 .3-18.2 .4 19.3 .3-19.2 .3 18.5 .4-16.8 .3 17.3 .3-18.8 .3 18.8 .4-18.2 .3 18.2 .3-20 .4 21.1 .3-18.3 .3 16.7 .4-17.4 .3 21.5 .3-21.2 .3 20.2 .4-21 .3 18.1 .3-19 .4 18.5 .3-17 .3 17.7 .4-20 .3 21.1 .3-18.6 .4 16.9 .3-16.6 .3 16.5 .3-16.9 .4 18.3 .3-17.6 .3 18 .4-18.5 .3 18.2 .3-22.3 .4 21.7 .3-17.6 .3 21.1 .3-21.9 .4 21.9 .3-22.9 .3 18.6 .4-16.4 .3 16.2 .3-16.4 .4 18.5 .3-22.8 .3 20.8 .3-18.5 .4 20.5 .3-20.4 .3 18.3 .4-17.9 .3 19.8 .3-18.5 .4 19.2 .3-18.9 .3 16.3 .4-16.5 .3 18.2 .3-18.1 .3 17.7 .4-17.4 .3 19.2 .3-20.2 .4 20.6 .3-20.6 .3 17.9 .4-18 .3 17.7 .3-16.9 .3 18.2 .4-18.8 .3 17.1 .3-18.1 .4 18.6 .3-21.2 .3 22 .4-17.7 .3 16.9 .3-18.2 .4 18.7 .3-17.4 .3 17.4 .3-17.5 .4 18 .3-19.2 .3 18.4 .4-18.3 .3 17.5 .3-16.1 .4 17.1 .3-17.9 .3 19.6 .3-19.8 .4 17.2 .3-20.1 .3 20.2 .4-16.6 .3 18 .3-18.8 .4 17.9 .3-16.8 .3 16 .3-18.3 .4 18.8 .3-17.5 .3 17.2 .4-16.9 .3 17.6 .3-21.5 .4 20.9 .3-17.4 .3 19.2 .4-19.2 .3 21.7 .3-21.9 .3 18.1 .4-17.5 .3 16.8 .3-20.7 .4 21.6 .3-19.3 .3 19 .4-17 .3 16.3 .3-16.3 .3 18.2 .4-20.8 .3 23.1 .3-21.5 .4 21.3 .3-22.7 .3 20.8 .4-20.2 .3 18.2 .3-17.4 .4 17.6 .3-20.9 .3 23 .3-20 .4 18.4 .3-17 .3 16.7 .4-19.7 .3 22.1 .3-22.1 .4 20.9 .3-18.1 .3 16.9 .3-16.6 .4 16.7 .3-17.7 .3 21.7 .4-25 .3 21.4 .3-17.3 .4 17.2 .3-20.5 .3 21.3 .3-17.9 .4 16.3 .3-20.7 .3 20.8 .4-16.3 .3 16.5 .5 74.1 .3 16.4 .4-16.2 .3 17 .3-16.4 .4 16.2 .3-16.2 .3 17.9 .3-18.2 .4 18.5 .3-18 .3 16.3 .4-20.3 .3 20.1 .3-15.9 .4 16.2 .3-18.9 .3 18.2 .4-19.9 .3 20 .3-16 .3 15.6 .4-15.5 .3 15.7 .3-18.2 .4 20.3 .3-18.2 .3 16.1 .4-17.1 .3 17.1 .3-15.3 .4 17.1 .3-21.6 .3 19.9 .3-15.6 .4 16.6 .3-18.4 .3 17.6 .4-19.7 .3 20.1 .3-17.8 .4 19.5 .3-22.1 .3 20.8 .4-18.6 .3 17.5 .3-15.3 .3 18.9 .4-23 .3 21.1 .3-17.3 .4 17.3 .3-17.1 .3 15.6 .4-18.3 .3 19.8 .3-17.7 .4 16.6 .3-17.9 .3 17.6 .3-15.8 .4 16.9 .3-17.2 .3 17.4 .4-18.8 .3 17.2 .3-16 .4 16.5 .3-16.7 .3 16.1 .4-16.9 .3 17.5 .3-15.7 .3 15 .4-16 .3 17 .3-16.1 .4 18.1 .3-19.5 .3 17.6 .4-17.5 .3 18 .3-16.8 .4 15.7 .3-17.7 .3 19.2 .4-18 .3 16.1 .3-16.3 .3 16.8 .4-17.5 .3 18.5 .3-17.2 .4 16.5 .3-16.3 .3 16.1 .4-15.9 .3 16.2 .3-16.7 .4 16.4 .3-15.8 .3 16.3 .3-16.2 .4 15.6 .3-15.9 .3 15.7 .4-17 .3 18.5 .3-17 .4 16 .3-19.8 .3 21.6 .4-19.2 .3 18.9 .3-18.2 .3 16.5 .4-17.3 .3 16.7 .3-18.9 .4 19.3 .3-16.2 .3 20.3 .4-20 .3 16.2 .3-17.4 .4 16.7 .3-15.3 .3 15.4 .3-15.8 .4 20.2 .3-20.4 .3 16 .4-18.2 .3 18.2 .3-18.4 .4 20.2 .3-18.3 .3 18.2 .4-17.4 .3 17.3 .3-18.2 .3 17 .4-20.2 .3 19.9 .3-16.1 .4 16.3 .3-20.1 .3 22.3 .4-18.5 .3 20.4 .3-21.3 .4 20.2 .3-19.6 .3 16.1 .3-15.6 .4 20.2 .3-23.4 .3 19.4 .4-17.2 .3 17.5 .3-18.4 .4 18.4 .3-18.2 .3 18.2 .4-17.8 .3 17.5 .3-16.3 .3 16.4 .4-19.6 .3 19.6 .3-16.5 .4 15.8 .3-18.7" fill="none" stroke="#000" stroke-width="0.72" stroke-linejoin="bevel"/>
<line x1="357.00" y1="777.00" x2="660.00" y2="777.00" stroke="#ff8a1a" stroke-width="2" stroke-dasharray="17.6 6.04"/>
<line x1="357.00" y1="867.30" x2="660.00" y2="867.30" stroke="#ff8a1a" stroke-width="2" stroke-dasharray="17.6 6.04"/>
<path d="M420.00 766.00 L419.67 766.00 L419.49 766.50 L419.22 767.00 L418.84 767.50 L418.31 768.00 L417.59 768.50 L416.62 769.00 L415.37 769.50 L413.77 770.00 L411.80 770.50 L409.42 771.00 L406.62 771.50 L403.42 772.00 L399.87 772.50 L396.06 773.00 L392.10 773.50 L388.14 774.00 L384.36 774.50 L380.93 775.00 L378.04 775.50 L375.84 776.00 L374.47 776.50 L374.00 777.00 L374.47 777.50 L375.84 778.00 L378.04 778.50 L380.93 779.00 L384.36 779.50 L388.14 780.00 L392.10 780.50 L396.06 781.00 L399.87 781.50 L403.42 782.00 L406.62 782.50 L409.42 783.00 L411.80 783.50 L413.77 784.00 L415.37 784.50 L416.62 785.00 L417.59 785.50 L418.31 786.00 L418.84 786.50 L419.22 787.00 L419.49 787.50 L419.67 788.00 L419.79 788.50 L419.87 789.00 L419.92 789.50 L419.95 790.00 L419.97 790.50 L419.98 791.00 L419.99 791.50 L420.00 792.00 L420.00 792.50 L420.00 793.00 L420.00 793.50 L420.00 794.00 L420.00 794.50 L420.00 795.00 L420.00 795.50 L420.00 796.00 L420.00 796.50 L420.00 797.00 L420.00 797.50 L420.00 798.00 L420.00 798.50 L420.00 799.00 L420.00 799.50 L420.00 800.00 L420.00 800.50 L420.00 801.00 L420.00 801.50 L420.00 802.00 L420.00 802.50 L420.00 803.00 L420.00 803.50 L420.00 804.00 L420.00 804.50 L420.00 805.00 L420.00 805.50 L420.00 806.00 L420.00 806.50 L420.00 807.00 L420.00 807.50 L420.00 808.00 L420.00 808.50 L420.00 809.00 L420.00 809.50 L420.00 810.00 L420.00 810.50 L420.00 811.00 L420.00 811.50 L420.00 812.00 L420.00 812.50 L420.00 813.00 L420.00 813.50 L420.00 814.00 L420.00 814.50 L420.00 815.00 L420.00 815.50 L420.00 816.00 L420.00 816.50 L420.00 817.00 L420.00 817.50 L420.00 818.00 L420.00 818.50 L420.00 819.00 L420.00 819.50 L420.00 820.00 L420.00 820.50 L420.00 821.00 L420.00 821.50 L420.00 822.00 L420.00 822.50 L420.00 823.00 L420.00 823.50 L420.00 824.00 L420.00 824.50 L420.00 825.00 L420.00 825.50 L420.00 826.00 L420.00 826.50 L420.00 827.00 L420.00 827.50 L420.00 828.00 L420.00 828.50 L420.00 829.00 L420.00 829.50 L420.00 830.00 L420.00 830.50 L420.00 831.00 L420.00 831.50 L420.00 832.00 L420.00 832.50 L420.00 833.00 L420.00 833.50 L420.00 834.00 L420.00 834.50 L420.00 835.00 L420.00 835.50 L420.00 836.00 L420.00 836.50 L420.00 837.00 L420.00 837.50 L420.00 838.00 L420.00 838.50 L420.00 839.00 L420.00 839.50 L420.00 840.00 L420.00 840.50 L420.00 841.00 L420.00 841.50 L420.00 842.00 L420.00 842.50 L420.00 843.00 L420.00 843.50 L420.00 844.00 L420.00 844.50 L420.00 845.00 L420.00 845.50 L420.00 846.00 L420.00 846.50 L420.00 847.00 L420.00 847.50 L420.00 848.00 L420.00 848.50 L420.00 849.00 L420.00 849.50 L420.00 850.00 L420.00 850.50 L420.00 851.00 L420.00 851.50 L420.00 852.00 L419.99 852.50 L419.99 853.00 L419.98 853.50 L419.96 854.00 L419.94 854.50 L419.90 855.00 L419.84 855.50 L419.74 856.00 L419.59 856.50 L419.37 857.00 L419.05 857.50 L418.59 858.00 L417.97 858.50 L417.12 859.00 L415.99 859.50 L414.55 860.00 L412.73 860.50 L410.50 861.00 L407.84 861.50 L404.75 862.00 L401.26 862.50 L397.43 863.00 L393.38 863.50 L389.22 864.00 L385.14 864.50 L381.32 865.00 L377.95 865.50 L375.20 866.00 L373.24 866.50 L372.18 867.00 L372.08 867.50 L372.95 868.00 L374.74 868.50 L377.34 869.00 L380.60 869.50 L384.35 870.00 L388.40 870.50 L392.55 871.00 L396.64 871.50 L400.52 872.00 L404.08 872.50 L407.26 873.00 L410.00 873.50 L412.32 874.00 L414.21 874.50 L415.73 875.00 L416.91 875.50 L417.81 876.00 L418.48 876.50 L418.97 877.00 L419.31 877.50 L419.55 878.00 L419.71 878.50 L419.82 879.00 L419.89 879.50 L419.93 880.00 L419.96 880.50 L419.98 881.00 L419.99 881.50 L419.99 882.00 L420.00 882.50 L420.00 883.00 L420.00 883.50 L420.00 884.00 L420.00 884.50 L420.00 884.50 Z" fill="#c3c3c3" stroke="none"/>
<line x1="420.00" y1="760.20" x2="420.00" y2="884.50" stroke="#5a5a5a" stroke-width="1.6" />
<path d="M419.67 766.00 L419.49 766.50 L419.22 767.00 L418.84 767.50 L418.31 768.00 L417.59 768.50 L416.62 769.00 L415.37 769.50 L413.77 770.00 L411.80 770.50 L409.42 771.00 L406.62 771.50 L403.42 772.00 L399.87 772.50 L396.06 773.00 L392.10 773.50 L388.14 774.00 L384.36 774.50 L380.93 775.00 L378.04 775.50 L375.84 776.00 L374.47 776.50 L374.00 777.00 L374.47 777.50 L375.84 778.00 L378.04 778.50 L380.93 779.00 L384.36 779.50 L388.14 780.00 L392.10 780.50 L396.06 781.00 L399.87 781.50 L403.42 782.00 L406.62 782.50 L409.42 783.00 L411.80 783.50 L413.77 784.00 L415.37 784.50 L416.62 785.00 L417.59 785.50 L418.31 786.00 L418.84 786.50 L419.22 787.00 L419.49 787.50 L419.67 788.00 L419.79 788.50 L419.87 789.00 L419.92 789.50 L419.95 790.00 L419.97 790.50 L419.98 791.00 L419.99 791.50 L420.00 792.00 L420.00 792.50 L420.00 793.00 L420.00 793.50 L420.00 794.00 L420.00 794.50 L420.00 795.00 L420.00 795.50 L420.00 796.00 L420.00 796.50 L420.00 797.00 L420.00 797.50 L420.00 798.00 L420.00 798.50 L420.00 799.00 L420.00 799.50 L420.00 800.00 L420.00 800.50 L420.00 801.00 L420.00 801.50 L420.00 802.00 L420.00 802.50 L420.00 803.00 L420.00 803.50 L420.00 804.00 L420.00 804.50 L420.00 805.00 L420.00 805.50 L420.00 806.00 L420.00 806.50 L420.00 807.00 L420.00 807.50 L420.00 808.00 L420.00 808.50 L420.00 809.00 L420.00 809.50 L420.00 810.00 L420.00 810.50 L420.00 811.00 L420.00 811.50 L420.00 812.00 L420.00 812.50 L420.00 813.00 L420.00 813.50 L420.00 814.00 L420.00 814.50 L420.00 815.00 L420.00 815.50 L420.00 816.00 L420.00 816.50 L420.00 817.00 L420.00 817.50 L420.00 818.00 L420.00 818.50 L420.00 819.00 L420.00 819.50 L420.00 820.00 L420.00 820.50 L420.00 821.00 L420.00 821.50 L420.00 822.00 L420.00 822.50 L420.00 823.00 L420.00 823.50 L420.00 824.00 L420.00 824.50 L420.00 825.00 L420.00 825.50 L420.00 826.00 L420.00 826.50 L420.00 827.00 L420.00 827.50 L420.00 828.00 L420.00 828.50 L420.00 829.00 L420.00 829.50 L420.00 830.00 L420.00 830.50 L420.00 831.00 L420.00 831.50 L420.00 832.00 L420.00 832.50 L420.00 833.00 L420.00 833.50 L420.00 834.00 L420.00 834.50 L420.00 835.00 L420.00 835.50 L420.00 836.00 L420.00 836.50 L420.00 837.00 L420.00 837.50 L420.00 838.00 L420.00 838.50 L420.00 839.00 L420.00 839.50 L420.00 840.00 L420.00 840.50 L420.00 841.00 L420.00 841.50 L420.00 842.00 L420.00 842.50 L420.00 843.00 L420.00 843.50 L420.00 844.00 L420.00 844.50 L420.00 845.00 L420.00 845.50 L420.00 846.00 L420.00 846.50 L420.00 847.00 L420.00 847.50 L420.00 848.00 L420.00 848.50 L420.00 849.00 L420.00 849.50 L420.00 850.00 L420.00 850.50 L420.00 851.00 L420.00 851.50 L420.00 852.00 L419.99 852.50 L419.99 853.00 L419.98 853.50 L419.96 854.00 L419.94 854.50 L419.90 855.00 L419.84 855.50 L419.74 856.00 L419.59 856.50 L419.37 857.00 L419.05 857.50 L418.59 858.00 L417.97 858.50 L417.12 859.00 L415.99 859.50 L414.55 860.00 L412.73 860.50 L410.50 861.00 L407.84 861.50 L404.75 862.00 L401.26 862.50 L397.43 863.00 L393.38 863.50 L389.22 864.00 L385.14 864.50 L381.32 865.00 L377.95 865.50 L375.20 866.00 L373.24 866.50 L372.18 867.00 L372.08 867.50 L372.95 868.00 L374.74 868.50 L377.34 869.00 L380.60 869.50 L384.35 870.00 L388.40 870.50 L392.55 871.00 L396.64 871.50 L400.52 872.00 L404.08 872.50 L407.26 873.00 L410.00 873.50 L412.32 874.00 L414.21 874.50 L415.73 875.00 L416.91 875.50 L417.81 876.00 L418.48 876.50 L418.97 877.00 L419.31 877.50 L419.55 878.00 L419.71 878.50 L419.82 879.00 L419.89 879.50 L419.93 880.00 L419.96 880.50 L419.98 881.00 L419.99 881.50 L419.99 882.00 L420.00 882.50 L420.00 883.00 L420.00 883.50 L420.00 884.00 L420.00 884.50" fill="none" stroke="#1a1ae6" stroke-width="1.25"/>
<line x1="420.00" y1="777.30" x2="423.00" y2="777.30" stroke="#777" stroke-width="1" />
<text transform="translate(434.90,782.40) scale(1.0,1)" font-size="14.6" text-anchor="start" fill="#111">0</text>
<line x1="420.00" y1="799.82" x2="423.00" y2="799.82" stroke="#777" stroke-width="1" />
<text transform="translate(434.90,804.92) scale(1.0,1)" font-size="14.6" text-anchor="end" fill="#111">-</text>
<text transform="translate(434.90,804.92) scale(1.0,1)" font-size="14.6" text-anchor="start" fill="#111">4</text>
<line x1="420.00" y1="822.34" x2="423.00" y2="822.34" stroke="#777" stroke-width="1" />
<text transform="translate(434.90,827.44) scale(1.0,1)" font-size="14.6" text-anchor="end" fill="#111">-</text>
<text transform="translate(434.90,827.44) scale(1.0,1)" font-size="14.6" text-anchor="start" fill="#111">8</text>
<line x1="420.00" y1="844.86" x2="423.00" y2="844.86" stroke="#777" stroke-width="1" />
<text transform="translate(434.90,849.96) scale(1.0,1)" font-size="14.6" text-anchor="end" fill="#111">-</text>
<text transform="translate(434.90,849.96) scale(1.0,1)" font-size="14.6" text-anchor="start" fill="#111">12</text>
<line x1="420.00" y1="867.38" x2="423.00" y2="867.38" stroke="#777" stroke-width="1" />
<text transform="translate(434.90,872.48) scale(1.0,1)" font-size="14.6" text-anchor="end" fill="#111">-</text>
<text transform="translate(434.90,872.48) scale(1.0,1)" font-size="14.6" text-anchor="start" fill="#111">16</text>
<text transform="translate(396.20,757.50) scale(1.045,1)" font-size="14.2" text-anchor="start" fill="#111">I (pA)</text>
<text transform="translate(359.00,826.50) scale(1.04,1)" font-size="14.4" text-anchor="start" fill="#111">-80 mV</text>
<polyline points="550.80,802.30 550.80,825.20 574.30,825.20" fill="none" stroke="#333" stroke-width="1.25"/>
<text transform="translate(516.80,819.20) scale(1.03,1)" font-size="14.4" text-anchor="start" fill="#111">4 pA</text>
<text transform="translate(541.60,840.40) scale(1.03,1)" font-size="14.4" text-anchor="start" fill="#111">500 ms</text>
</svg></body></html>
